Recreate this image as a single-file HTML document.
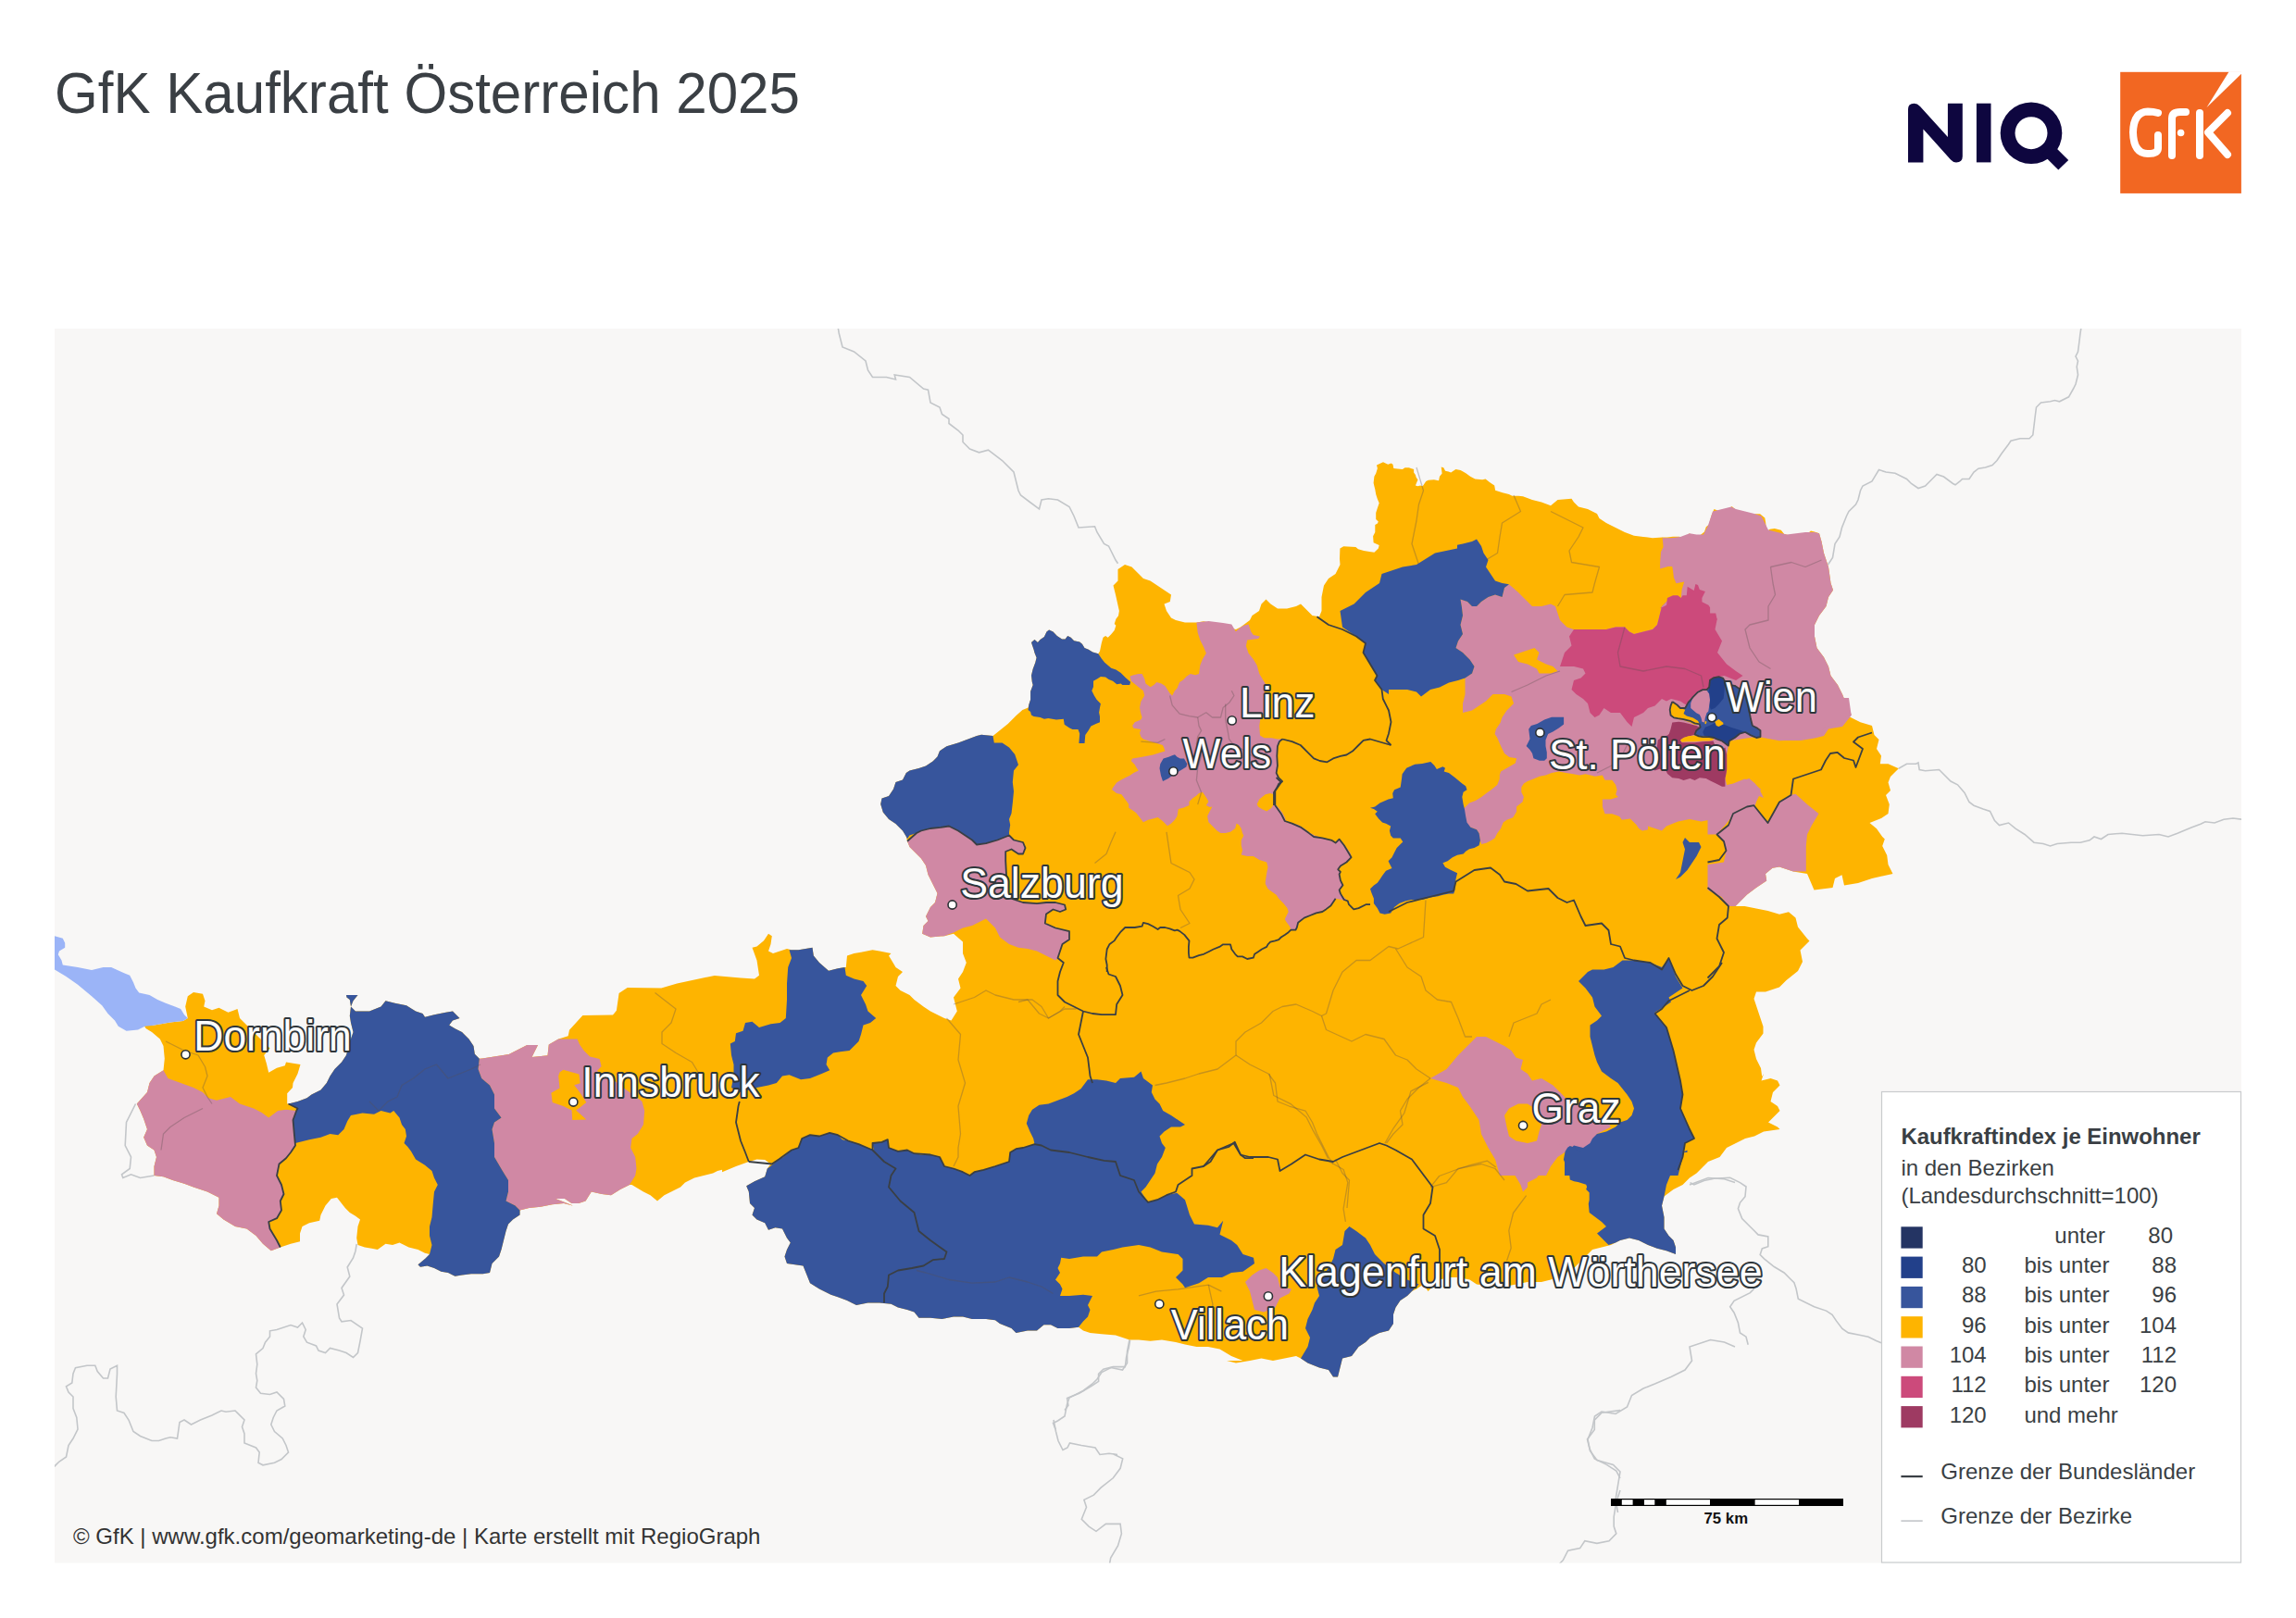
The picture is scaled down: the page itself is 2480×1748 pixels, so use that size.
<!DOCTYPE html>
<html><head><meta charset="utf-8"><title>GfK Kaufkraft Österreich 2025</title>
<style>
html,body{margin:0;padding:0;background:#fff;}
body{width:2480px;height:1748px;position:relative;overflow:hidden;font-family:"Liberation Sans",sans-serif;}
svg{position:absolute;left:0;top:0;}
.lab{font-family:"Liberation Sans",sans-serif;font-size:46px;fill:#fff;stroke:#2f363b;stroke-width:4.2px;paint-order:stroke;stroke-linejoin:round;}
.lg{font-family:"Liberation Sans",sans-serif;font-size:24px;fill:#3a3f44;}
</style></head><body>
<svg width="2480" height="1748" viewBox="0 0 2480 1748">
<defs><clipPath id="mc"><rect x="59" y="355" width="2362" height="1333.5"/></clipPath></defs>
<text transform="translate(59,122) scale(0.942,1)" style="font-family:'Liberation Sans',sans-serif;font-size:63.8px;fill:#3a3f44">GfK Kaufkraft Österreich 2025</text>
<!-- NIQ logo -->
<g fill="#0e063f">
<path d="M2061,175.4 L2061,118 Q2061,111.7 2067.5,111.7 Q2071,111.7 2074,115 L2103.9,148 L2103.9,111.7 L2119.8,111.7 L2119.8,169 Q2119.8,175.4 2113,175.4 Q2109.5,175.4 2107,172.5 L2077.4,139.5 L2077.4,175.4 Z"/>
<rect x="2134.9" y="111.7" width="15.6" height="63.7"/>
<path fill-rule="evenodd" d="M2194,110.4 A33.3,33.3 0 1 0 2194,177 A33.3,33.3 0 1 0 2194,110.4 Z M2194,126.2 A17.5,17.5 0 1 1 2194,161.2 A17.5,17.5 0 1 1 2194,126.2 Z"/>
<polygon points="2216.3,155.2 2234.2,172.9 2223.3,183.4 2205.7,166"/>
</g>
<!-- GfK logo -->
<rect x="2290.2" y="77.8" width="130.7" height="131.1" fill="#f26722"/>
<polygon points="2407.7,77.3 2421.5,77.3 2421.5,79.3 2383.6,115.9" fill="#fff"/>
<g fill="none" stroke="#fff" stroke-width="8" stroke-linecap="round" stroke-linejoin="round">
<path d="M2331,122 Q2326,120.5 2320,120.5 Q2304.5,121 2304,143 Q2304.5,166 2320,166 Q2331,166 2331,160 L2331,146"/>
<path d="M2346,168 L2346,128 Q2346,121 2355,121 L2361,121"/>
<path d="M2376,122 L2376,168"/>
<path d="M2406,122 L2385,143 L2406,167"/>
</g>
<circle cx="2355.6" cy="143.5" r="3.8" fill="#fff"/>
<!-- map -->
<rect x="59" y="355" width="2362" height="1333.5" fill="#f8f7f6"/>
<g clip-path="url(#mc)">
<polyline points="146.5,1192.5 136.5,1212.5 135.2,1237.5 141.5,1250.0 140.2,1262.5 131.5,1268.8 132.8,1272.5 141.5,1268.8 151.5,1272.5 166.5,1270.0" fill="none" stroke="#c3c6c9" stroke-width="1.6"/>
<polyline points="385.2,1344.0 384.0,1351.5 381.5,1359.0 375.2,1369.0 377.8,1379.0 369.0,1391.5 371.5,1399.0 364.0,1409.0 366.5,1424.0 369.0,1427.8 379.0,1426.5 391.5,1435.2 389.0,1449.0 386.5,1461.5 381.5,1466.5 374.0,1461.5 366.5,1459.0 356.5,1456.5 351.5,1461.5 344.0,1459.0 341.5,1454.0 331.5,1450.2 327.8,1444.0 330.2,1436.5 326.5,1429.0 321.5,1434.0 314.0,1431.5 299.0,1436.5 291.5,1437.8 291.5,1444.0 286.5,1450.2 284.0,1456.5 276.5,1462.8 277.8,1474.0 276.5,1484.0 277.8,1491.5 276.5,1499.0 281.5,1505.2 291.5,1506.5 299.0,1504.0 306.5,1511.5 307.8,1519.0 299.0,1524.0 295.2,1531.5 292.8,1539.0 296.5,1546.5 305.2,1554.0 309.0,1561.5 311.5,1569.0 304.0,1576.5 296.5,1580.2 284.0,1582.8 279.0,1580.2 280.2,1569.0 276.5,1564.0 264.0,1559.0 264.0,1549.0 261.5,1541.5 264.0,1534.0 254.0,1524.0 244.0,1525.2 239.0,1524.0 229.0,1529.0 216.5,1534.0 206.5,1539.0 199.0,1534.0 194.0,1536.5 191.5,1554.0 184.0,1552.8 179.0,1554.0 171.5,1556.5 164.0,1556.5 151.5,1551.5 144.0,1546.5 139.0,1534.0 134.0,1526.5 126.5,1524.0 125.2,1509.0 126.5,1484.0 126.5,1475.2 119.0,1479.0 116.5,1489.0 111.5,1489.0 105.2,1481.5 102.8,1475.2 94.0,1475.2 81.5,1477.8 79.0,1484.0 77.8,1494.0 71.5,1497.8 74.0,1504.0 79.0,1509.0 79.0,1521.5 82.8,1531.5 84.0,1544.0 79.0,1554.0 74.0,1561.5 71.5,1574.0 64.0,1579.0 56.5,1586.5" fill="none" stroke="#c3c6c9" stroke-width="1.6"/>
<polyline points="1220.6,1447.8 1219.3,1455.7 1216.6,1466.1 1215.3,1476.6 1202.3,1476.6 1191.8,1479.2 1186.6,1484.4 1186.6,1492.3 1178.7,1497.5 1165.7,1505.3 1152.6,1510.6 1153.9,1518.4 1150.0,1523.6" fill="none" stroke="#c3c6c9" stroke-width="1.6"/>
<polyline points="1138.0,1534.0 1140.5,1546.5 1143.0,1556.5 1148.0,1566.5 1153.0,1564.0 1155.5,1559.0 1168.0,1561.5 1183.0,1564.0 1188.0,1571.5 1198.0,1570.2 1207.0,1571.5 1202.3,1570.7 1212.7,1575.9 1210.1,1586.3 1202.3,1596.8 1189.2,1607.2 1181.4,1615.1 1170.9,1620.3 1173.5,1628.2 1168.3,1641.2 1176.1,1649.1 1184.0,1654.3 1194.4,1646.4 1210.1,1646.4 1211.4,1656.9 1207.5,1670.0 1199.7,1683.0 1198.3,1690.9" fill="none" stroke="#c3c6c9" stroke-width="1.6"/>
<polyline points="1750.0,1523.6 1730.1,1526.2 1722.3,1534.1 1722.3,1544.5 1714.5,1555.0 1717.1,1565.4 1722.3,1575.9 1735.4,1582.4 1745.8,1589.0 1750.0,1596.8" fill="none" stroke="#c3c6c9" stroke-width="1.6"/>
<polyline points="1750.0,1609.9 1745.8,1622.9 1743.2,1638.6 1743.2,1649.1 1745.8,1656.9 1738.0,1664.7 1724.9,1667.4 1711.8,1664.7 1706.6,1672.6 1693.6,1675.2 1688.3,1685.6 1683.1,1690.9" fill="none" stroke="#c3c6c9" stroke-width="1.6"/>
<polyline points="1825.5,1277.6 1829.8,1279.8 1840.6,1275.5 1851.4,1273.3 1868.7,1272.2 1879.5,1277.6 1886.0,1282.0 1885.0,1292.8 1879.5,1299.3 1877.4,1305.7 1881.7,1316.6 1890.4,1325.2 1894.7,1329.5 1899.0,1333.9 1909.8,1336.0 1909.8,1346.8 1903.3,1349.0 1901.2,1355.5 1905.5,1359.8 1916.3,1368.5 1927.1,1375.0 1933.6,1381.5 1937.9,1385.8 1940.1,1392.3 1942.3,1403.1 1959.6,1411.7 1972.6,1416.1 1979.0,1420.4 1983.4,1426.9 1989.9,1435.5 1996.4,1439.9 2007.2,1442.0 2018.0,1444.2 2026.6,1448.5 2032.0,1450.7" fill="none" stroke="#c3c6c9" stroke-width="1.6"/>
<polyline points="1894.7,1392.3 1890.4,1396.6 1873.1,1405.3 1868.7,1411.7 1873.1,1418.2 1877.4,1429.0 1879.5,1439.9 1886.0,1444.2 1888.2,1452.8" fill="none" stroke="#c3c6c9" stroke-width="1.6"/>
<polyline points="1220.0,1447.5 1217.5,1460.0 1217.5,1472.5 1212.5,1480.0 1200.0,1477.5 1190.0,1482.5 1185.0,1490.0 1180.0,1495.0 1170.0,1502.5 1155.0,1510.0 1152.5,1517.5 1150.0,1530.0 1142.5,1535.0 1137.5,1537.5 1140.0,1544.0" fill="none" stroke="#c3c6c9" stroke-width="1.6"/>
<polyline points="1825.0,1280.0 1845.0,1272.5 1862.5,1273.8 1874.0,1277.5" fill="none" stroke="#c3c6c9" stroke-width="1.6"/>
<polyline points="1874.0,1455.0 1862.5,1450.0 1847.5,1447.5 1825.0,1455.0 1827.5,1470.0 1820.0,1480.0 1805.0,1487.5 1787.5,1495.0 1775.0,1500.0 1762.5,1507.5 1757.5,1520.0 1745.0,1527.5 1730.0,1525.0 1722.5,1530.0 1720.0,1542.5 1715.0,1555.0 1717.5,1567.5 1725.0,1577.5 1742.5,1582.5 1750.0,1590.0 1747.5,1605.0 1745.0,1620.0 1747.5,1634.0" fill="none" stroke="#c3c6c9" stroke-width="1.6"/>
<polyline points="2050.8,830.2 2059.5,825.2 2069.5,825.2 2072.0,824.0 2073.2,831.5 2079.5,832.8 2094.5,831.5 2107.0,844.0 2114.5,847.8 2122.0,856.5 2127.0,866.5 2132.0,870.2 2142.0,874.0 2149.5,876.5 2154.5,886.5 2159.5,891.5 2169.5,889.0 2177.0,895.2 2187.0,901.5 2197.0,910.2 2207.0,911.5 2214.5,914.0 2222.0,911.5 2237.0,910.2 2247.0,910.2 2257.0,907.8 2262.0,904.0 2269.5,906.5 2277.0,901.5 2292.0,900.2 2314.5,902.8 2332.0,901.5 2342.0,904.0 2352.0,900.2 2367.0,894.0 2377.0,890.2 2382.0,887.8 2392.0,889.0 2402.0,885.2 2412.0,884.0 2422.0,885.2" fill="none" stroke="#c3c6c9" stroke-width="1.6"/>
<polyline points="1974.5,610.0 1979.5,602.5 1982.0,587.5 1987.0,580.0 1989.5,570.0 1994.5,557.5 1997.0,552.5 2004.5,545.0 2007.0,540.0 2009.5,530.0 2012.0,525.0 2022.0,520.0 2029.5,507.5 2037.0,510.0 2047.0,511.2 2059.5,517.5 2064.5,522.5 2072.0,527.5 2079.5,525.0 2087.0,517.5 2092.0,512.5 2099.5,515.0 2109.5,522.5 2112.0,523.8 2117.0,520.0 2119.5,517.5 2127.0,517.5 2132.0,510.0 2137.0,506.2 2144.5,505.0 2152.0,502.5 2157.0,497.5 2162.0,490.0 2169.5,480.0 2172.0,476.2 2182.0,473.8 2192.0,473.8 2195.8,470.0 2197.0,460.0 2198.2,450.0 2199.5,440.0 2204.5,435.0 2214.5,433.8 2219.5,432.5 2224.5,433.8 2234.5,428.8 2239.5,420.0 2242.0,415.0 2244.5,405.0 2243.2,396.2 2244.5,390.0 2242.0,385.0 2244.5,380.0 2245.8,370.0 2247.0,360.0 2248.2,352.5" fill="none" stroke="#c3c6c9" stroke-width="1.6"/>
<polyline points="905.0,352.5 906.2,360.0 910.0,375.0 922.5,380.0 935.0,390.0 937.5,400.0 942.5,407.5 957.5,407.5 967.5,410.0 966.2,405.0 982.5,407.5 997.5,420.0 1002.5,421.2 1005.0,435.0 1015.0,440.0 1017.5,447.5 1025.0,452.5 1025.0,457.5 1035.0,465.0 1040.0,470.0 1040.0,477.5 1047.5,485.0 1057.5,488.8 1067.5,486.2 1082.5,497.5 1095.0,510.0 1097.5,520.0 1100.0,530.0 1102.5,535.0 1112.5,542.5 1122.5,550.0 1125.0,540.0 1132.5,538.8 1142.5,540.0 1155.0,547.5 1160.0,557.5 1165.0,570.0 1182.5,568.8 1185.0,575.0 1192.5,587.5 1197.5,590.0 1205.0,605.0 1207.5,608.8" fill="none" stroke="#c3c6c9" stroke-width="1.6"/>
<polygon points="147.8,1192.5 159.0,1180.0 161.5,1170.0 166.5,1162.5 176.5,1156.2 177.8,1143.8 176.5,1130.0 172.8,1122.5 164.0,1115.0 157.8,1111.2 155.2,1107.5 164.0,1108.0 174.0,1106.2 184.0,1104.5 197.8,1103.0 202.8,1100.0 200.2,1087.5 202.8,1076.2 209.0,1072.0 219.0,1073.8 221.5,1081.2 220.2,1087.5 229.0,1091.2 236.5,1088.8 246.5,1093.8 256.5,1090.0 259.0,1100.0 264.0,1105.0 274.0,1115.0 284.0,1125.0 291.5,1132.5 285.2,1140.0 287.8,1148.8 290.2,1158.8 299.0,1153.8 307.8,1151.2 309.0,1147.5 316.5,1148.8 324.5,1150.0 321.5,1160.0 316.5,1170.0 316.0,1175.0 310.2,1181.2 310.2,1192.5 311.5,1192.5 321.5,1190.0 331.5,1186.2 336.5,1182.5 346.5,1177.5 352.8,1170.0 356.5,1162.5 361.5,1155.0 369.0,1147.5 374.0,1140.0 376.5,1130.0 381.5,1115.0 379.0,1105.0 377.8,1097.5 379.0,1087.5 377.8,1080.0 374.5,1077.5 374.0,1075.0 386.5,1075.0 381.5,1081.2 379.0,1087.5 384.0,1092.5 399.0,1092.5 411.5,1087.5 416.5,1081.2 426.5,1083.8 439.0,1086.2 449.0,1092.5 456.5,1095.0 459.0,1098.8 469.0,1096.2 481.5,1093.8 489.0,1092.5 496.5,1100.0 489.0,1102.5 485.2,1107.5 491.5,1111.2 499.0,1115.0 506.5,1122.5 511.5,1130.0 512.8,1138.8 517.8,1143.8 520.9,1143.4 549.7,1138.9 569.3,1129.1 581.0,1129.1 574.5,1142.1 591.5,1140.2 592.8,1128.4 603.2,1122.5 613.7,1119.3 615.0,1112.7 629.4,1097.0 662.0,1096.4 665.9,1091.8 668.6,1072.9 677.7,1067.0 714.3,1067.6 731.3,1062.4 771.8,1053.9 800.0,1056.5 815.0,1057.5 820.0,1053.8 817.5,1037.5 812.5,1023.8 817.5,1022.5 825.0,1016.2 830.0,1008.8 833.8,1011.2 832.5,1020.0 830.0,1027.5 835.0,1030.0 850.0,1025.0 855.0,1026.2 862.5,1026.2 870.0,1025.0 877.5,1023.8 878.8,1032.5 885.0,1040.0 895.0,1048.8 905.0,1046.2 912.5,1045.0 913.8,1045.0 915.0,1032.5 922.5,1030.0 930.0,1028.8 942.5,1026.2 950.0,1027.5 962.5,1030.0 960.0,1032.5 963.8,1038.8 967.5,1045.0 975.0,1050.0 970.0,1055.0 967.5,1065.0 972.5,1070.0 982.5,1075.0 987.5,1080.0 997.5,1087.5 1005.0,1092.5 1015.0,1097.5 1020.0,1100.0 1027.5,1102.5 1033.8,1092.5 1030.0,1077.5 1037.5,1067.5 1035.0,1057.5 1040.0,1050.0 1043.8,1040.0 1040.0,1030.0 1040.0,1017.5 1030.0,1008.8 1020.0,1011.2 1005.0,1012.5 996.2,1008.8 997.5,1000.0 1002.5,995.0 1000.0,990.0 1005.0,980.0 1010.0,975.0 1012.5,965.0 1007.5,955.0 1002.5,945.0 1000.0,935.0 995.0,927.5 987.5,920.0 982.5,915.0 980.0,908.8 978.8,903.8 975.0,897.5 967.5,890.0 960.0,885.0 953.8,877.5 951.2,868.8 952.5,862.5 960.0,860.0 965.0,852.5 967.5,845.0 975.0,842.5 978.8,835.0 982.5,832.5 992.5,830.0 1000.0,827.5 1007.5,822.5 1012.5,817.5 1015.0,811.2 1022.5,806.2 1035.0,802.5 1045.0,798.8 1055.0,795.0 1060.0,793.8 1072.5,795.0 1080.0,788.9 1088.7,782.0 1097.4,773.2 1104.4,767.1 1110.5,764.5 1111.4,761.0 1113.1,755.8 1113.1,747.1 1115.7,740.1 1114.8,736.7 1114.0,729.7 1115.7,722.7 1118.3,715.7 1119.6,710.5 1117.5,705.3 1116.6,701.8 1114.8,696.6 1114.0,694.0 1117.5,690.9 1120.9,694.0 1123.6,690.9 1127.9,687.9 1130.5,682.6 1133.1,680.5 1137.5,682.6 1141.8,687.0 1147.1,690.5 1150.6,690.5 1153.2,687.0 1156.7,688.7 1160.1,692.2 1166.2,693.5 1168.9,695.7 1171.5,700.1 1175.8,701.8 1180.2,704.4 1186.3,706.2 1188.0,703.6 1189.8,694.8 1191.5,688.7 1194.1,687.0 1196.7,688.7 1200.2,685.3 1203.7,680.9 1205.4,675.7 1203.7,673.9 1205.4,668.7 1208.0,665.2 1208.9,660.0 1205.0,642.5 1202.5,632.5 1207.5,627.5 1207.5,615.0 1215.0,610.0 1222.5,612.5 1230.0,620.0 1235.0,625.0 1242.5,627.5 1250.0,632.5 1257.5,637.5 1265.0,642.5 1263.8,650.0 1257.5,652.5 1260.0,660.0 1265.0,667.5 1270.0,670.0 1280.0,672.5 1292.5,672.5 1300.0,671.2 1312.5,673.8 1325.0,677.5 1335.0,680.0 1340.0,677.5 1345.0,673.8 1350.0,670.0 1352.5,665.0 1360.0,660.0 1362.5,652.5 1367.5,647.5 1372.5,652.5 1380.0,657.5 1390.0,657.5 1400.0,655.0 1405.0,652.5 1412.5,660.0 1417.5,665.0 1425.0,666.2 1427.5,660.0 1427.5,645.0 1430.0,632.5 1435.0,625.0 1442.5,620.0 1447.5,610.0 1447.0,603.7 1447.4,592.4 1451.3,590.2 1455.7,590.6 1464.4,591.1 1467.0,593.2 1473.1,595.0 1479.2,595.9 1484.4,596.7 1488.8,592.4 1489.7,588.9 1483.6,586.3 1483.1,579.3 1485.3,574.9 1485.3,567.1 1487.9,565.4 1488.8,563.6 1486.2,561.0 1486.2,554.0 1487.9,548.8 1489.7,543.6 1487.9,539.2 1486.2,534.0 1485.3,528.8 1484.4,525.3 1483.6,521.8 1484.4,514.8 1486.2,511.4 1487.9,506.1 1487.0,502.6 1492.3,500.0 1494.0,499.2 1499.2,501.8 1502.7,500.5 1504.5,501.8 1505.3,506.1 1509.7,506.6 1514.9,507.0 1517.5,505.3 1521.9,505.3 1527.1,507.0 1527.1,510.5 1528.9,513.1 1529.7,515.7 1531.5,518.3 1528.9,524.4 1531.5,525.3 1534.1,524.4 1536.7,525.3 1540.2,520.1 1542.8,518.8 1548.9,518.3 1554.1,519.2 1555.0,514.8 1557.6,511.4 1556.7,504.4 1559.3,505.3 1561.1,508.7 1564.6,509.6 1567.2,510.5 1572.4,507.0 1577.6,507.9 1583.7,511.4 1588.1,514.8 1593.3,517.5 1601.1,518.3 1604.6,517.5 1609.0,520.9 1614.2,524.4 1615.1,529.7 1622.9,532.3 1629.9,534.0 1633.4,535.7 1640.0,535.7 1645.0,536.2 1655.0,540.0 1665.0,542.5 1675.0,546.2 1682.5,540.0 1697.5,538.8 1700.0,542.5 1705.0,547.5 1715.0,550.0 1725.0,555.0 1727.5,560.0 1735.0,565.0 1745.0,570.0 1755.0,575.0 1765.0,578.8 1775.0,580.0 1785.0,581.2 1795.7,580.5 1800.9,580.5 1807.0,579.7 1814.0,579.7 1819.2,581.8 1822.7,581.4 1824.5,576.2 1827.9,578.3 1829.7,581.8 1834.0,581.4 1836.7,577.9 1841.0,574.4 1842.8,569.2 1846.2,566.6 1847.1,562.2 1848.9,556.1 1851.5,550.0 1855.8,551.8 1864.5,551.3 1867.1,550.9 1870.6,547.0 1874.1,550.0 1878.5,553.5 1883.7,555.3 1885.4,557.0 1892.4,557.0 1895.9,555.3 1901.1,555.3 1906.3,559.6 1907.2,564.8 1908.1,574.4 1911.6,571.8 1916.8,570.9 1923.8,572.7 1927.2,577.0 1932.5,578.3 1939.4,578.3 1946.4,576.2 1951.6,577.0 1956.0,573.6 1960.0,574.4 1965.0,576.2 1967.5,585.0 1970.0,597.5 1972.5,605.0 1975.0,612.5 1977.5,630.0 1980.0,637.5 1975.0,645.0 1972.5,655.0 1965.0,665.0 1960.0,675.0 1960.0,687.5 1962.5,700.0 1970.0,710.0 1975.0,720.0 1977.5,730.0 1985.0,740.0 1990.0,750.0 1995.0,762.5 1999.5,771.5 1997.0,774.0 2009.5,780.2 2022.0,784.0 2024.5,794.0 2029.5,799.0 2027.0,809.0 2032.0,816.5 2030.8,825.2 2039.5,825.2 2050.8,830.2 2042.0,839.0 2039.5,845.2 2042.0,854.0 2037.0,859.0 2040.8,869.0 2039.5,879.0 2032.0,884.0 2019.5,889.0 2027.0,895.2 2033.2,904.0 2035.8,906.5 2033.2,914.0 2038.2,924.0 2039.5,934.0 2044.5,944.0 2022.0,949.0 2007.0,954.0 1992.0,956.5 1989.5,945.2 1982.0,949.0 1979.5,959.0 1959.5,961.5 1952.0,944.0 1937.0,941.5 1929.5,939.0 1922.0,936.5 1914.5,937.8 1907.0,944.0 1908.2,951.5 1897.0,959.0 1887.0,966.5 1879.5,974.0 1874.5,979.0 1884.5,979.0 1897.0,981.5 1909.5,984.0 1922.0,987.8 1932.0,985.2 1939.5,991.5 1942.0,1001.5 1952.0,1014.0 1954.5,1016.5 1944.5,1026.5 1947.0,1039.0 1942.0,1049.0 1929.5,1059.0 1922.0,1066.5 1907.0,1071.5 1897.0,1071.5 1894.5,1079.0 1899.5,1094.0 1904.5,1109.0 1904.5,1116.5 1897.0,1126.5 1894.5,1134.0 1897.0,1144.0 1902.0,1154.0 1903.2,1163.0 1905.0,1160.0 1902.5,1167.5 1912.5,1165.0 1920.0,1167.5 1922.5,1172.5 1915.0,1180.0 1912.5,1190.0 1920.0,1195.0 1922.5,1200.0 1915.0,1207.5 1910.0,1212.5 1920.0,1217.5 1922.5,1220.0 1905.0,1222.5 1895.0,1227.5 1885.0,1230.0 1875.0,1235.0 1865.0,1240.0 1857.5,1250.0 1845.0,1255.0 1840.0,1260.0 1837.5,1264.0 1840.0,1260.0 1832.5,1267.5 1825.0,1272.5 1817.5,1280.0 1807.5,1285.0 1797.5,1292.5 1795.0,1302.5 1797.5,1315.0 1797.5,1327.5 1802.5,1335.0 1807.5,1340.0 1810.0,1347.5 1810.0,1355.0 1800.0,1351.2 1790.0,1348.8 1780.0,1345.0 1770.0,1340.0 1760.0,1337.5 1750.0,1340.0 1740.0,1345.0 1730.0,1347.5 1720.0,1350.0 1710.0,1360.0 1700.0,1370.0 1687.5,1377.5 1675.0,1382.5 1665.0,1385.0 1650.0,1385.0 1637.5,1387.5 1625.0,1390.0 1612.5,1390.0 1595.0,1387.5 1587.5,1382.5 1575.0,1380.0 1565.0,1380.0 1555.0,1382.5 1547.5,1390.0 1542.5,1395.0 1537.5,1387.5 1530.0,1392.5 1525.0,1395.0 1520.0,1400.0 1512.5,1405.0 1507.5,1412.5 1505.0,1420.0 1505.0,1430.0 1500.0,1437.5 1490.0,1440.0 1480.0,1445.0 1475.0,1450.0 1467.5,1455.0 1460.0,1465.0 1450.0,1467.5 1447.5,1477.5 1445.0,1487.5 1440.0,1487.5 1435.0,1480.0 1425.0,1477.5 1412.5,1472.5 1405.0,1467.5 1400.0,1465.0 1387.5,1467.5 1375.0,1470.0 1362.5,1467.5 1350.0,1470.0 1335.0,1472.5 1325.0,1470.0 1354.0,1470.0 1342.5,1470.0 1330.0,1465.0 1317.5,1457.5 1305.0,1455.0 1292.5,1455.0 1280.0,1452.5 1270.0,1450.0 1255.0,1447.5 1242.5,1448.8 1230.0,1447.5 1220.0,1447.5 1205.0,1442.5 1190.0,1441.2 1177.5,1440.0 1170.0,1437.5 1165.0,1433.8 1165.0,1433.8 1155.0,1435.0 1142.5,1435.0 1135.0,1431.2 1127.5,1431.2 1120.0,1437.5 1110.0,1437.5 1097.5,1440.0 1092.5,1435.0 1080.0,1430.0 1075.0,1426.2 1065.0,1425.0 1057.5,1425.0 1050.0,1425.0 1040.0,1422.5 1030.0,1422.5 1017.5,1425.0 1005.0,1423.8 992.5,1423.8 987.5,1417.5 980.0,1415.0 970.0,1412.5 962.5,1408.8 950.0,1407.5 937.5,1407.5 925.0,1410.0 915.0,1405.0 905.0,1401.2 897.5,1398.8 885.0,1392.5 875.0,1386.2 872.5,1380.0 867.5,1367.5 850.0,1365.0 847.5,1357.5 850.0,1350.0 853.8,1342.5 850.0,1337.5 845.0,1327.5 837.5,1326.2 830.0,1328.8 826.2,1321.2 817.5,1317.5 812.5,1312.5 815.0,1305.0 810.0,1300.0 808.8,1287.5 806.2,1281.2 815.0,1276.2 826.2,1271.2 828.8,1262.5 832.5,1257.5 832.5,1257.5 826.2,1253.0 817.5,1252.5 807.5,1255.5 795.0,1260.0 780.0,1266.2 780.0,1263.8 775.0,1265.0 770.0,1267.5 760.0,1270.0 750.0,1272.5 740.0,1277.5 735.0,1282.5 725.0,1287.5 717.5,1291.2 710.0,1297.5 702.5,1291.2 695.0,1287.5 682.5,1280.0 680.0,1280.0 670.0,1285.0 660.0,1291.2 650.0,1290.0 638.8,1287.5 632.5,1297.5 625.0,1300.0 617.5,1300.0 610.0,1295.0 600.0,1295.0 619.0,1302.5 609.0,1300.0 596.5,1301.2 584.0,1303.8 571.5,1305.0 561.5,1307.5 561.5,1312.5 554.0,1317.5 549.0,1322.5 546.5,1330.0 544.0,1340.0 541.5,1350.0 539.0,1357.5 531.5,1365.0 529.0,1375.0 521.5,1376.2 509.0,1376.2 499.0,1377.5 491.5,1378.8 484.0,1375.0 476.5,1373.8 469.0,1370.0 461.5,1367.5 454.0,1368.8 451.5,1366.2 459.0,1360.0 464.0,1355.0 459.0,1353.8 451.5,1350.0 441.5,1347.5 431.5,1342.5 424.0,1345.0 416.5,1343.8 407.8,1350.0 401.5,1348.8 394.0,1347.5 386.5,1345.0 385.2,1337.5 386.5,1325.0 389.0,1317.5 384.0,1313.8 377.8,1310.0 372.8,1305.0 364.0,1293.8 357.8,1295.0 351.5,1302.5 346.5,1312.5 345.2,1318.8 334.0,1321.2 326.5,1325.0 324.0,1332.5 324.0,1341.2 314.0,1343.8 302.8,1347.5 292.8,1351.2 284.0,1343.8 276.5,1335.0 266.5,1327.5 254.0,1325.0 241.5,1317.5 234.0,1311.2 236.5,1302.5 236.5,1293.8 224.0,1287.5 209.0,1282.5 199.0,1278.8 186.5,1275.0 176.5,1271.2 166.5,1270.0 166.5,1260.0 169.0,1250.0 166.5,1242.5 159.0,1237.5 155.2,1228.8 159.0,1220.0 155.2,1208.8 151.5,1200.0" fill="#feb400"/>
<polygon points="59.0,1011.2 67.8,1013.8 70.2,1018.8 70.2,1023.8 64.0,1027.5 62.8,1031.2 66.5,1037.5 67.8,1042.5 84.0,1045.0 99.0,1048.0 111.5,1045.0 120.2,1045.0 134.0,1051.2 140.2,1053.8 144.0,1061.2 146.5,1067.5 150.2,1072.5 161.5,1075.0 170.2,1080.0 179.0,1083.8 189.0,1087.5 195.2,1090.0 199.0,1096.2 202.8,1100.0 197.8,1103.0 184.0,1104.5 174.0,1106.2 164.0,1108.0 156.5,1108.8 149.0,1112.5 136.5,1113.8 127.8,1108.8 124.0,1102.5 116.5,1095.0 110.2,1086.2 99.0,1076.2 84.0,1063.8 71.5,1055.0 59.0,1047.5" fill="#9bb4f7"/>
<polygon points="176.5,1156.2 166.5,1162.5 161.5,1170.0 159.0,1180.0 147.8,1192.5 151.5,1200.0 155.2,1208.8 159.0,1220.0 155.2,1228.8 159.0,1237.5 166.5,1242.5 169.0,1250.0 166.5,1260.0 166.5,1270.0 176.5,1271.2 186.5,1275.0 199.0,1278.8 209.0,1282.5 224.0,1287.5 236.5,1293.8 236.5,1302.5 234.0,1311.2 241.5,1317.5 254.0,1325.0 266.5,1327.5 276.5,1335.0 284.0,1343.8 292.8,1351.2 302.8,1347.5 299.0,1340.0 291.5,1327.5 290.2,1320.0 299.0,1316.2 304.0,1307.5 302.8,1297.5 306.5,1290.0 304.0,1280.0 299.0,1270.0 301.5,1257.5 309.0,1251.2 314.0,1245.0 319.0,1237.5 317.8,1225.0 316.5,1210.0 320.2,1200.0 309.0,1198.8 300.2,1200.0 290.2,1207.5 282.8,1202.0 274.0,1197.5 259.0,1192.5 249.0,1185.0 234.0,1188.8 225.2,1186.2 219.0,1180.0 209.0,1175.0 195.2,1170.0 181.5,1165.0" fill="#d088a4"/>
<polygon points="520.9,1143.4 549.7,1138.9 569.3,1129.1 581.0,1129.1 574.5,1142.1 591.5,1140.2 592.8,1128.4 603.2,1122.5 623.5,1122.5 626.1,1128.4 630.7,1134.9 637.2,1141.5 647.6,1144.1 649.6,1151.9 645.0,1157.1 660.0,1165.0 680.0,1180.0 693.4,1189.8 696.2,1200.0 695.0,1215.0 688.8,1225.0 682.5,1230.0 681.2,1240.0 686.2,1250.0 687.5,1262.5 686.2,1270.0 680.0,1280.0 670.0,1285.0 660.0,1291.2 650.0,1290.0 638.8,1287.5 632.5,1297.5 625.0,1300.0 617.5,1300.0 610.0,1295.0 600.0,1295.0 619.0,1302.5 609.0,1300.0 596.5,1301.2 584.0,1303.8 571.5,1305.0 561.5,1307.5 556.5,1302.5 546.5,1297.5 549.0,1287.5 549.0,1275.0 542.8,1265.0 534.0,1250.0 534.0,1235.0 531.5,1220.0 534.0,1212.5 541.5,1207.5 534.0,1197.5 534.0,1182.5 529.0,1172.5 520.2,1165.0 516.5,1155.0 517.8,1143.8" fill="#d088a4"/>
<polygon points="980.0,908.8 990.0,900.0 995.0,897.5 1005.0,895.0 1016.2,893.8 1025.0,892.5 1035.0,897.5 1042.5,902.5 1050.0,907.5 1055.0,912.5 1065.0,911.2 1077.5,907.5 1090.0,902.5 1095.0,907.5 1105.0,910.0 1107.5,916.2 1105.0,922.5 1100.0,922.5 1092.5,917.5 1086.2,920.0 1086.2,930.0 1087.5,955.0 1090.0,970.0 1105.0,975.0 1120.0,976.2 1130.0,975.0 1140.0,975.0 1150.0,977.5 1151.2,982.5 1145.0,985.0 1137.5,982.5 1130.0,987.5 1128.8,997.5 1140.0,1002.5 1155.0,1006.2 1155.0,1015.0 1147.5,1020.0 1145.0,1027.5 1142.5,1035.0 1140.0,1037.5 1130.0,1032.5 1120.0,1027.5 1110.0,1025.0 1100.0,1023.8 1090.0,1020.0 1080.0,1012.5 1075.0,1002.5 1067.5,995.0 1065.0,992.5 1055.0,997.5 1050.0,1000.0 1040.0,1002.5 1030.0,1007.5 1020.0,1011.2 1005.0,1012.5 996.2,1008.8 997.5,1000.0 1002.5,995.0 1000.0,990.0 1005.0,980.0 1010.0,975.0 1012.5,965.0 1007.5,955.0 1002.5,945.0 1000.0,935.0 995.0,927.5 987.5,920.0 982.5,915.0" fill="#d088a4"/>
<polygon points="1292.4,672.4 1305.4,671.1 1321.1,673.1 1330.3,674.4 1334.8,682.2 1339.4,678.3 1343.3,675.7 1348.6,674.4 1351.2,682.2 1353.8,686.1 1361.0,687.4 1359.0,690.1 1347.2,691.4 1345.9,697.9 1348.6,705.7 1353.8,712.3 1357.7,718.8 1360.3,727.9 1364.2,734.5 1368.2,741.0 1365.5,744.9 1366.8,758.0 1365.5,771.1 1361.6,775.0 1360.3,784.1 1361.0,794.6 1365.5,797.2 1373.4,797.2 1379.9,798.5 1385.1,798.5 1381.9,801.1 1379.9,806.3 1379.3,816.8 1379.9,827.2 1378.6,835.1 1381.2,840.3 1385.1,844.2 1381.2,846.8 1378.6,852.1 1376.0,856.0 1378.6,851.8 1377.3,854.4 1377.3,859.6 1376.0,863.5 1377.3,868.7 1381.2,872.7 1385.1,877.9 1387.8,883.1 1389.1,888.3 1395.6,889.7 1402.1,891.0 1408.7,894.9 1415.2,900.1 1420.4,902.7 1428.3,905.3 1436.1,907.9 1442.6,910.6 1446.6,906.6 1450.5,910.6 1454.4,915.8 1458.3,921.0 1459.6,926.2 1454.4,931.5 1450.5,934.1 1445.2,939.3 1447.9,941.9 1446.6,944.5 1447.9,951.1 1450.5,956.3 1446.6,961.5 1447.9,965.4 1454.4,972.0 1451.8,973.3 1449.2,972.0 1442.6,970.7 1438.7,975.9 1433.5,981.1 1428.3,983.7 1421.7,986.3 1415.2,989.0 1408.7,991.6 1403.4,995.5 1402.1,999.4 1399.5,1004.6 1394.3,1004.6 1393.0,1000.7 1389.1,995.5 1387.8,992.9 1389.1,990.3 1391.7,985.0 1390.4,981.1 1386.4,975.9 1381.2,970.7 1378.6,966.7 1374.7,964.1 1369.5,960.2 1366.8,955.0 1366.8,952.4 1368.2,943.2 1369.5,936.7 1368.2,931.5 1360.3,928.9 1353.8,924.9 1347.2,924.9 1340.7,923.6 1342.0,918.4 1340.7,913.2 1340.7,907.9 1343.3,902.7 1342.0,900.1 1340.7,894.9 1338.1,891.0 1335.5,889.7 1334.2,894.9 1329.0,898.8 1323.7,900.1 1318.5,900.1 1314.6,897.5 1309.4,892.3 1305.4,888.3 1304.1,881.8 1306.7,876.6 1309.4,871.4 1306.7,872.0 1302.8,870.1 1305.4,866.1 1304.1,863.5 1301.5,859.6 1298.9,855.7 1295.0,857.0 1292.4,859.6 1288.4,862.2 1284.5,866.1 1284.5,870.1 1278.0,872.7 1272.8,874.0 1271.5,881.8 1268.9,885.7 1264.9,889.7 1261.0,892.3 1255.8,887.0 1250.6,883.1 1245.3,884.4 1240.1,885.7 1234.9,888.3 1231.0,883.1 1227.0,877.9 1223.1,875.3 1219.2,872.7 1219.2,868.7 1215.3,863.5 1211.4,858.3 1206.1,857.0 1200.9,853.1 1202.2,850.8 1206.1,845.5 1210.1,842.9 1215.3,840.3 1220.5,837.7 1224.4,835.1 1229.7,832.5 1227.0,828.6 1225.7,825.9 1221.8,822.0 1223.1,819.4 1232.3,818.1 1238.8,816.8 1245.3,815.5 1253.2,812.9 1258.4,811.6 1257.1,807.6 1255.8,805.0 1247.9,802.4 1242.7,801.1 1234.9,798.5 1232.3,795.9 1231.0,792.0 1232.3,788.0 1224.4,786.7 1223.1,784.1 1225.7,780.2 1232.3,777.6 1233.6,775.0 1232.3,771.1 1231.0,764.5 1232.3,758.0 1236.2,751.5 1234.9,746.2 1229.7,742.3 1221.8,735.8 1220.5,730.6 1224.4,729.3 1229.7,727.9 1233.6,727.9 1236.2,733.2 1237.5,738.4 1242.7,742.3 1246.6,739.7 1249.3,737.1 1254.5,738.4 1258.4,741.0 1263.6,748.9 1266.2,751.5 1268.9,746.2 1271.5,743.6 1274.1,737.1 1278.0,734.5 1281.9,730.6 1285.8,727.9 1291.1,729.3 1295.0,727.9 1296.3,718.8 1298.9,712.3 1302.8,705.7 1300.2,699.2 1296.3,691.4 1293.7,683.5" fill="#d088a4"/>
<polygon points="1795.0,581.2 1805.0,581.2 1815.0,580.0 1825.0,576.2 1832.5,577.5 1840.0,577.5 1845.0,567.5 1850.0,552.5 1860.0,550.0 1870.0,547.5 1875.0,550.0 1885.0,552.5 1895.0,555.0 1902.5,557.5 1907.5,567.5 1910.0,572.5 1920.0,575.0 1930.0,577.5 1940.0,576.2 1950.0,575.0 1960.0,575.0 1965.0,576.2 1967.5,585.0 1970.0,597.5 1972.5,605.0 1975.0,612.5 1977.5,630.0 1980.0,637.5 1975.0,645.0 1972.5,655.0 1965.0,665.0 1960.0,675.0 1960.0,687.5 1962.5,700.0 1970.0,710.0 1975.0,720.0 1977.5,730.0 1985.0,740.0 1990.0,750.0 1995.0,762.5 2000.0,772.5 1990.0,785.0 1975.0,787.5 1970.0,795.0 1960.0,797.5 1945.0,800.0 1925.0,800.0 1910.0,797.5 1902.5,795.0 1867.8,800.5 1866.9,805.7 1865.2,815.2 1865.2,831.6 1864.3,836.8 1863.4,841.1 1865.2,848.1 1873.8,847.2 1878.2,844.6 1882.5,842.9 1889.4,841.1 1895.5,846.3 1899.8,851.5 1905.0,861.9 1900.0,860.0 1895.0,870.0 1880.0,872.5 1870.0,880.0 1862.5,892.5 1857.5,887.5 1850.0,885.0 1837.5,887.5 1825.0,885.0 1812.5,887.5 1800.0,892.5 1795.0,897.5 1780.0,892.5 1780.0,896.3 1774.0,897.6 1770.1,895.0 1767.5,891.1 1760.9,884.5 1751.8,885.8 1749.2,881.9 1741.3,879.3 1733.5,879.3 1730.9,871.5 1730.9,863.6 1740.0,863.6 1747.9,861.0 1745.2,858.4 1746.6,853.2 1745.2,847.9 1741.3,842.7 1733.5,842.7 1730.9,837.5 1723.0,838.8 1717.8,837.5 1712.6,836.2 1706.0,837.5 1699.5,836.2 1691.7,834.9 1683.8,833.6 1676.0,834.9 1669.5,837.5 1662.9,838.8 1656.4,841.4 1649.9,844.0 1645.9,846.6 1643.3,850.6 1643.3,855.8 1645.9,861.0 1644.6,866.2 1638.1,871.5 1638.1,876.7 1634.2,883.2 1627.6,885.8 1623.7,888.4 1621.1,895.0 1617.2,900.2 1614.6,905.4 1610.7,908.0 1605.4,910.7 1600.2,912.0 1598.9,908.0 1597.6,900.2 1595.0,896.3 1588.4,893.7 1584.5,889.8 1583.2,884.5 1581.9,879.3 1580.6,874.1 1583.2,871.5 1587.1,867.5 1593.7,864.9 1600.2,861.0 1605.4,857.1 1610.7,853.2 1617.2,847.9 1619.8,841.4 1619.8,837.5 1621.1,833.6 1630.3,828.3 1636.8,824.4 1638.1,819.2 1630.3,817.9 1625.0,814.0 1621.1,806.1 1617.2,797.0 1614.6,793.1 1615.9,787.8 1621.1,780.0 1620.0,782.5 1622.5,775.0 1627.5,767.5 1635.0,760.0 1632.5,752.5 1625.0,750.0 1612.5,750.0 1605.0,757.5 1590.0,767.5 1580.0,770.0 1580.0,760.0 1582.5,750.0 1582.5,732.5 1590.0,727.5 1592.5,720.0 1587.5,712.5 1580.0,705.0 1572.5,700.0 1575.0,692.5 1580.0,685.0 1577.5,675.0 1580.0,665.0 1578.8,655.0 1577.5,647.5 1585.0,650.0 1590.0,655.0 1595.0,655.0 1600.0,650.0 1607.5,645.0 1615.0,642.5 1622.5,645.0 1625.0,635.0 1630.0,631.2 1640.0,640.0 1650.0,650.0 1655.0,655.0 1665.0,655.0 1675.0,652.5 1680.0,655.0 1682.5,662.5 1685.0,670.0 1692.5,677.5 1700.0,680.0 1712.5,680.0 1725.0,680.0 1735.0,680.0 1745.0,677.5 1755.0,677.5 1760.0,682.5 1765.0,685.0 1775.0,682.5 1785.0,680.0 1790.0,675.0 1792.5,665.0 1795.0,655.0 1800.0,650.0 1805.0,645.0 1815.7,645.9 1816.6,637.1 1819.2,628.4 1810.5,630.2 1807.9,624.1 1807.0,616.2 1806.2,611.9 1801.8,611.9 1793.1,614.5 1793.1,608.4 1794.0,596.2 1796.6,591.0 1795.7,580.5" fill="#d088a4"/>
<polygon points="1889.5,754.0 1997.0,754.0 1999.5,771.5 1987.0,779.0 1969.5,786.5 1967.0,794.0 1947.0,799.0 1922.0,800.2 1902.0,796.5 1892.0,784.0" fill="#d088a4"/>
<polygon points="1844.5,841.5 1862.0,849.0 1872.0,846.5 1884.5,841.5 1893.2,845.2 1902.0,852.8 1898.2,861.5 1895.8,870.2 1884.5,871.5 1872.0,879.0 1869.5,884.0 1854.5,901.5 1844.5,901.5" fill="#d088a4"/>
<polygon points="1854.5,901.5 1867.0,891.5 1872.0,879.0 1884.5,871.5 1894.5,870.2 1909.5,889.0 1917.0,876.5 1922.0,866.5 1933.2,859.0 1939.5,857.8 1952.0,869.0 1964.5,879.0 1957.0,891.5 1952.0,901.5 1950.8,914.0 1950.8,941.5 1937.0,941.5 1929.5,939.0 1922.0,936.5 1914.5,937.8 1907.0,944.0 1908.2,951.5 1897.0,959.0 1887.0,966.5 1879.5,974.0 1874.5,979.0 1867.0,979.0 1859.5,969.0 1844.5,961.5 1844.5,934.0 1862.0,931.5 1864.5,919.0 1862.0,909.0" fill="#d088a4"/>
<polygon points="1545.0,1165.0 1562.5,1155.0 1575.0,1140.0 1585.0,1130.0 1595.0,1120.0 1605.0,1120.0 1615.0,1125.0 1625.0,1130.0 1632.5,1135.0 1637.5,1142.5 1645.0,1145.0 1642.5,1155.0 1650.0,1160.0 1655.0,1167.5 1665.0,1165.0 1677.5,1172.5 1685.0,1180.0 1690.0,1185.0 1695.0,1195.0 1700.0,1192.5 1710.0,1195.0 1720.0,1205.0 1735.0,1210.0 1740.0,1217.5 1725.0,1225.0 1720.0,1232.5 1715.0,1240.0 1710.0,1242.5 1697.5,1237.5 1690.0,1245.0 1682.5,1250.0 1675.0,1260.0 1670.0,1270.0 1620.0,1270.0 1615.0,1252.5 1607.5,1240.0 1600.0,1225.0 1597.5,1210.0 1587.5,1195.0 1580.0,1185.0 1575.0,1175.0 1562.5,1170.0" fill="#d088a4"/>
<polygon points="1600.0,1225.0 1605.0,1230.0 1612.5,1240.0 1620.0,1250.0 1627.5,1257.5 1635.0,1267.5 1642.5,1280.0 1645.0,1287.5 1650.0,1282.5 1650.0,1277.5 1660.0,1272.5 1665.0,1265.0 1672.5,1255.0 1675.0,1245.0 1682.5,1237.5 1690.0,1235.0 1700.0,1240.0 1712.5,1242.5 1722.5,1235.0 1722.5,1225.0" fill="#d088a4"/>
<polygon points="1345.0,1385.0 1352.5,1377.5 1360.0,1372.5 1367.5,1370.0 1375.0,1375.0 1380.0,1380.0 1382.5,1390.0 1395.0,1392.5 1392.5,1397.5 1382.5,1402.5 1377.5,1412.5 1365.0,1417.5 1355.0,1415.0 1352.5,1405.0 1350.0,1395.0" fill="#d088a4"/>
<polygon points="604.5,1158.4 608.4,1155.8 625.4,1160.4 626.7,1170.2 620.2,1172.2 626.7,1180.7 633.3,1191.1 626.7,1196.3 622.2,1199.6 633.3,1209.4 618.2,1210.1 617.6,1199.6 608.4,1195.0 596.7,1191.1 595.4,1180.7 604.5,1175.4 603.2,1162.4" fill="#feb400"/>
<polygon points="1357.7,868.7 1360.3,863.5 1366.8,858.3 1372.1,857.0 1376.0,858.3 1376.0,868.7 1373.4,872.7 1368.2,876.6 1362.9,874.0 1359.0,871.4" fill="#feb400"/>
<polygon points="1635.0,707.5 1642.5,705.0 1650.0,702.5 1657.5,700.0 1662.5,705.0 1660.0,712.5 1670.0,717.5 1677.5,720.0 1682.5,725.0 1675.0,727.5 1662.5,727.5 1660.0,722.5 1650.0,717.5 1640.0,715.0" fill="#feb400"/>
<polygon points="1625.0,1205.0 1630.0,1197.5 1640.0,1192.5 1650.0,1192.5 1657.5,1197.5 1662.5,1205.0 1665.0,1215.0 1662.5,1222.5 1660.0,1232.5 1650.0,1235.0 1637.5,1232.5 1630.0,1227.5 1627.5,1217.5" fill="#feb400"/>
<polygon points="1793.1,657.2 1800.1,653.7 1800.9,645.9 1807.0,643.2 1812.3,643.2 1815.7,645.9 1817.5,643.2 1821.8,643.2 1822.7,633.7 1829.7,638.0 1831.4,631.0 1834.0,631.9 1835.8,637.1 1841.9,638.9 1838.4,645.9 1838.4,650.2 1845.4,653.7 1847.1,656.3 1847.1,662.4 1853.2,662.4 1854.9,670.0 1855.0,667.5 1852.5,680.0 1860.0,692.5 1855.0,705.0 1865.0,717.5 1875.0,725.0 1882.5,730.0 1875.0,735.0 1862.5,730.0 1850.0,732.5 1847.5,745.0 1840.0,745.0 1832.5,750.0 1825.0,755.0 1822.5,762.5 1815.0,757.5 1805.0,755.0 1800.0,757.5 1795.0,755.0 1787.5,762.5 1780.0,765.0 1775.0,770.0 1765.0,775.0 1762.5,785.0 1757.5,780.0 1750.0,770.0 1740.0,770.0 1732.5,765.0 1727.5,772.5 1722.5,775.0 1717.5,770.0 1715.0,760.0 1710.0,755.0 1702.5,750.0 1697.5,745.0 1700.0,735.0 1707.5,732.5 1712.5,727.5 1710.0,722.5 1700.0,720.0 1692.5,720.0 1685.0,720.0 1690.0,705.0 1697.5,697.5 1695.0,687.5 1700.0,680.0 1712.5,680.0 1725.0,680.0 1735.0,680.0 1745.0,677.5 1755.0,677.5 1760.0,682.5 1765.0,685.0 1775.0,682.5 1785.0,680.0 1790.0,675.0 1792.5,665.0 1795.0,655.0 1800.0,650.0 1805.0,645.0" fill="#cc4a7b"/>
<polygon points="374.0,1075.0 386.5,1075.0 381.5,1081.2 379.0,1087.5 384.0,1092.5 399.0,1092.5 411.5,1087.5 416.5,1081.2 426.5,1083.8 439.0,1086.2 449.0,1092.5 456.5,1095.0 459.0,1098.8 469.0,1096.2 481.5,1093.8 489.0,1092.5 496.5,1100.0 489.0,1102.5 485.2,1107.5 491.5,1111.2 499.0,1115.0 506.5,1122.5 511.5,1130.0 512.8,1138.8 517.8,1143.8 516.5,1155.0 520.2,1165.0 529.0,1172.5 534.0,1182.5 534.0,1197.5 541.5,1207.5 534.0,1212.5 531.5,1220.0 534.0,1235.0 534.0,1250.0 542.8,1265.0 549.0,1275.0 549.0,1287.5 546.5,1297.5 556.5,1302.5 561.5,1307.5 561.5,1312.5 554.0,1317.5 549.0,1322.5 546.5,1330.0 544.0,1340.0 541.5,1350.0 539.0,1357.5 531.5,1365.0 529.0,1375.0 521.5,1376.2 509.0,1376.2 499.0,1377.5 491.5,1378.8 484.0,1375.0 476.5,1373.8 469.0,1370.0 461.5,1367.5 454.0,1368.8 451.5,1366.2 459.0,1360.0 464.0,1355.0 466.5,1345.0 464.0,1335.0 464.0,1325.0 466.5,1315.0 467.8,1300.0 469.0,1287.5 472.8,1280.0 469.0,1272.5 466.5,1265.0 459.0,1258.8 449.0,1252.5 444.0,1243.8 440.2,1238.8 436.5,1235.0 439.0,1227.5 437.8,1220.0 434.0,1215.0 431.5,1207.5 425.2,1200.0 421.5,1202.5 411.5,1200.0 404.0,1203.8 391.5,1202.5 379.0,1205.0 375.2,1211.2 371.5,1220.0 365.2,1226.2 356.5,1225.0 346.5,1228.8 334.0,1231.2 319.0,1235.0 317.8,1225.0 316.5,1210.0 320.2,1200.0 321.5,1197.5 311.5,1192.5 321.5,1190.0 331.5,1186.2 336.5,1182.5 346.5,1177.5 352.8,1170.0 356.5,1162.5 361.5,1155.0 369.0,1147.5 374.0,1140.0 376.5,1130.0 381.5,1115.0 379.0,1105.0 377.8,1097.5 379.0,1087.5 377.8,1080.0 374.5,1077.5" fill="#37559c"/>
<polygon points="852.5,1026.2 862.5,1026.2 870.0,1025.0 877.5,1023.8 878.8,1032.5 885.0,1040.0 895.0,1048.8 905.0,1046.2 912.5,1045.0 913.8,1053.8 922.5,1057.5 932.5,1060.0 936.2,1065.0 930.0,1075.0 935.0,1085.0 937.5,1092.5 946.2,1100.0 940.0,1105.0 932.5,1107.5 930.0,1117.5 927.5,1125.0 917.5,1135.0 907.5,1136.2 900.0,1137.5 893.8,1142.5 892.5,1150.0 896.2,1156.2 887.5,1160.0 875.0,1165.0 865.0,1166.2 852.5,1161.2 845.0,1162.5 838.8,1170.0 830.0,1172.5 817.5,1175.0 800.0,1180.0 790.0,1175.0 792.5,1162.5 792.5,1150.0 790.0,1140.0 788.8,1127.5 793.8,1125.0 795.0,1116.2 802.5,1113.8 805.0,1105.0 812.5,1103.8 820.0,1110.0 832.5,1106.2 842.5,1105.0 848.8,1100.0 850.0,1080.0 850.0,1062.5 851.2,1045.0 855.0,1035.0" fill="#37559c"/>
<polygon points="806.2,1281.2 815.0,1276.2 826.2,1271.2 828.8,1262.5 833.8,1258.8 841.2,1252.5 846.2,1250.0 855.0,1242.5 862.5,1240.0 866.2,1230.0 875.0,1226.2 885.0,1227.5 896.2,1223.8 905.0,1226.2 910.0,1231.2 916.2,1232.5 927.5,1236.2 937.5,1240.0 943.8,1242.5 942.5,1235.0 952.5,1233.8 958.8,1231.2 960.0,1240.0 970.0,1243.8 980.0,1242.5 987.5,1246.2 995.0,1247.5 1005.0,1247.5 1015.0,1250.0 1020.0,1260.0 1030.0,1262.5 1040.0,1266.2 1047.5,1270.0 1052.5,1266.2 1062.5,1263.8 1075.0,1260.0 1090.0,1255.0 1091.2,1245.0 1097.5,1241.2 1105.0,1240.0 1117.5,1236.2 1116.2,1230.0 1112.5,1222.5 1108.8,1213.8 1111.2,1205.0 1115.0,1198.8 1122.5,1193.8 1132.5,1192.5 1142.5,1188.8 1152.5,1185.0 1160.0,1181.2 1167.5,1176.2 1175.0,1166.2 1185.0,1166.2 1195.0,1167.5 1205.0,1170.0 1210.0,1165.0 1225.0,1163.8 1232.5,1157.5 1235.0,1165.0 1245.0,1172.5 1243.8,1180.0 1247.5,1187.5 1252.5,1192.5 1256.2,1200.0 1265.0,1205.0 1272.5,1210.0 1280.0,1215.0 1275.0,1217.5 1265.0,1217.5 1257.5,1222.5 1252.5,1227.5 1255.0,1235.0 1258.8,1240.0 1255.0,1250.0 1250.0,1257.5 1247.5,1267.5 1242.5,1275.0 1237.5,1282.5 1232.5,1287.5 1240.0,1298.8 1250.0,1296.2 1260.0,1291.2 1271.2,1288.8 1280.0,1296.2 1285.0,1312.5 1290.0,1322.5 1305.0,1323.8 1315.0,1326.2 1321.2,1318.8 1317.5,1333.8 1330.0,1340.0 1336.2,1345.0 1342.5,1355.0 1354.0,1358.8 1355.0,1365.0 1342.5,1373.8 1330.0,1375.0 1320.0,1380.0 1305.0,1380.0 1295.0,1386.2 1280.0,1391.2 1277.5,1387.5 1270.0,1380.0 1277.5,1372.5 1277.5,1360.0 1272.5,1355.0 1255.0,1352.5 1242.5,1347.5 1230.0,1345.0 1212.5,1347.5 1202.5,1350.0 1190.0,1352.5 1185.0,1357.5 1170.0,1357.5 1155.0,1360.0 1146.2,1358.8 1145.0,1365.0 1142.5,1370.0 1145.0,1375.0 1140.0,1382.5 1145.0,1387.5 1147.5,1392.5 1145.0,1400.0 1155.0,1400.0 1170.0,1398.8 1180.0,1400.0 1177.5,1405.0 1175.0,1410.0 1177.5,1415.0 1175.0,1422.5 1170.0,1427.5 1165.0,1433.8 1155.0,1435.0 1142.5,1435.0 1135.0,1431.2 1127.5,1431.2 1120.0,1437.5 1110.0,1437.5 1097.5,1440.0 1092.5,1435.0 1080.0,1430.0 1075.0,1426.2 1065.0,1425.0 1057.5,1425.0 1050.0,1425.0 1040.0,1422.5 1030.0,1422.5 1017.5,1425.0 1005.0,1423.8 992.5,1423.8 987.5,1417.5 980.0,1415.0 970.0,1412.5 962.5,1408.8 950.0,1407.5 937.5,1407.5 925.0,1410.0 915.0,1405.0 905.0,1401.2 897.5,1398.8 885.0,1392.5 875.0,1386.2 872.5,1380.0 867.5,1367.5 850.0,1365.0 847.5,1357.5 850.0,1350.0 853.8,1342.5 850.0,1337.5 845.0,1327.5 837.5,1326.2 830.0,1328.8 826.2,1321.2 817.5,1317.5 812.5,1312.5 815.0,1305.0 810.0,1300.0 808.8,1287.5" fill="#37559c"/>
<polygon points="1060.0,793.8 1072.5,795.0 1073.8,802.5 1082.5,802.5 1090.0,807.5 1096.2,815.0 1100.0,826.2 1095.0,832.5 1093.8,845.0 1095.0,855.0 1093.8,867.5 1092.5,878.8 1090.0,885.0 1091.2,891.2 1090.0,898.8 1090.0,902.5 1077.5,907.5 1065.0,911.2 1055.0,912.5 1050.0,907.5 1042.5,902.5 1035.0,897.5 1025.0,892.5 1016.2,893.8 1005.0,895.0 995.0,897.5 990.0,900.0 982.5,902.5 980.0,906.2 978.8,903.8 975.0,897.5 967.5,890.0 960.0,885.0 953.8,877.5 951.2,868.8 952.5,862.5 960.0,860.0 965.0,852.5 967.5,845.0 975.0,842.5 978.8,835.0 982.5,832.5 992.5,830.0 1000.0,827.5 1007.5,822.5 1012.5,817.5 1015.0,811.2 1022.5,806.2 1035.0,802.5 1045.0,798.8 1055.0,795.0" fill="#37559c"/>
<polygon points="1114.0,694.0 1117.5,690.9 1120.9,694.0 1123.6,690.9 1127.9,687.9 1130.5,682.6 1133.1,680.5 1137.5,682.6 1141.8,687.0 1147.1,690.5 1150.6,690.5 1153.2,687.0 1156.7,688.7 1160.1,692.2 1166.2,693.5 1168.9,695.7 1171.5,700.1 1175.8,701.8 1180.2,704.4 1186.3,706.2 1189.8,711.4 1193.2,715.7 1200.2,721.8 1205.4,723.6 1210.7,727.1 1215.9,732.3 1221.1,736.7 1220.2,740.1 1212.4,740.1 1210.7,738.4 1206.3,739.3 1202.0,735.8 1197.6,734.0 1194.1,731.4 1188.9,731.0 1185.4,733.2 1181.0,735.8 1181.0,741.9 1179.3,746.2 1181.9,751.5 1184.5,755.8 1188.9,760.2 1188.0,764.5 1187.1,769.8 1188.0,774.1 1188.0,780.2 1183.7,782.0 1178.4,784.6 1175.8,788.9 1172.3,794.1 1171.5,802.9 1165.4,802.9 1166.2,792.4 1164.5,788.0 1158.4,788.0 1154.9,786.3 1149.7,782.8 1148.8,776.7 1141.0,777.6 1136.6,776.7 1132.3,775.9 1127.9,776.7 1123.6,775.0 1116.6,774.1 1114.0,772.4 1113.1,768.9 1110.5,767.1 1111.4,761.0 1113.1,755.8 1113.1,747.1 1115.7,740.1 1114.8,736.7 1114.0,729.7 1115.7,722.7 1118.3,715.7 1119.6,710.5 1117.5,705.3 1116.6,701.8 1114.8,696.6" fill="#37559c"/>
<polygon points="1253.3,825.2 1256.6,819.4 1262.4,817.7 1266.6,816.0 1269.0,815.2 1271.5,817.7 1274.8,819.4 1279.0,819.4 1282.3,825.2 1281.4,828.5 1277.3,831.0 1273.2,833.5 1270.7,836.0 1266.6,837.6 1262.0,841.0 1256.0,844.0 1254.0,838.0 1252.5,830.0" fill="#37559c"/>
<polygon points="1447.5,660.0 1462.5,652.5 1475.0,640.0 1490.0,630.0 1492.5,620.0 1515.0,612.5 1530.0,610.0 1550.0,597.5 1574.0,592.5 1574.0,588.8 1580.0,587.5 1590.0,585.0 1595.0,582.5 1600.0,590.0 1602.5,597.5 1607.5,605.0 1605.0,612.5 1610.0,620.0 1615.0,627.5 1622.5,630.0 1630.0,631.2 1625.0,635.0 1622.5,645.0 1615.0,642.5 1607.5,645.0 1600.0,650.0 1595.0,655.0 1590.0,655.0 1585.0,650.0 1577.5,647.5 1578.8,655.0 1580.0,665.0 1577.5,675.0 1580.0,685.0 1575.0,692.5 1572.5,700.0 1580.0,705.0 1587.5,712.5 1592.5,720.0 1590.0,727.5 1582.5,732.5 1575.0,735.0 1565.0,737.5 1555.0,742.5 1545.0,745.0 1535.0,752.5 1530.0,747.5 1520.0,745.0 1510.0,745.0 1500.0,745.0 1500.0,750.0 1492.5,745.0 1485.0,735.0 1487.5,730.0 1480.0,717.5 1472.5,705.0 1475.0,695.0 1465.0,687.5 1450.0,677.5" fill="#37559c"/>
<polygon points="1649.9,803.5 1652.5,798.3 1651.2,787.8 1653.8,783.9 1660.3,782.0 1668.2,777.4 1676.0,774.8 1689.1,774.8 1689.1,782.6 1683.8,786.5 1677.3,790.5 1672.1,793.1 1669.5,799.6 1669.5,806.1 1670.8,812.7 1670.8,819.2 1668.2,821.8 1662.9,821.8 1656.4,819.2 1655.1,814.0 1652.5,810.1 1648.6,806.1" fill="#37559c"/>
<polygon points="1514.6,836.2 1519.2,829.7 1528.3,825.7 1536.2,825.1 1545.3,823.1 1549.3,827.0 1551.9,831.0 1558.4,828.3 1561.0,829.7 1559.7,833.6 1564.9,834.9 1571.5,840.1 1579.3,846.6 1583.2,849.3 1584.5,853.2 1580.6,855.8 1579.3,861.0 1580.6,868.9 1581.9,874.1 1583.2,881.9 1584.5,888.4 1588.4,893.7 1595.0,896.3 1597.6,900.2 1598.9,908.0 1597.6,913.3 1592.4,915.9 1587.1,917.2 1583.2,919.8 1580.6,922.4 1574.1,923.7 1568.9,926.3 1563.6,930.3 1558.4,932.2 1561.0,936.8 1566.2,939.4 1574.1,943.3 1572.8,948.6 1571.5,955.1 1571.5,961.6 1570.2,965.5 1564.9,965.5 1558.4,966.8 1553.2,968.2 1545.3,969.5 1536.2,972.1 1529.7,972.1 1524.4,972.1 1517.9,973.4 1511.4,976.0 1506.1,979.9 1502.2,986.4 1495.7,987.8 1490.5,986.4 1487.8,981.2 1483.9,976.0 1483.9,970.8 1481.3,964.2 1480.0,960.3 1483.9,956.4 1487.8,953.8 1490.5,949.9 1493.1,945.9 1497.0,940.7 1503.5,938.1 1500.9,932.9 1499.6,930.3 1503.5,926.3 1506.1,921.1 1508.7,915.9 1512.7,912.0 1515.3,909.4 1512.7,905.4 1504.8,905.4 1502.2,902.8 1500.9,897.6 1502.2,892.4 1497.0,889.8 1493.1,888.4 1489.1,884.5 1485.2,879.3 1487.8,876.7 1483.9,874.1 1480.0,872.8 1485.2,871.5 1490.5,867.5 1499.6,863.6 1504.8,862.3 1504.2,857.1 1506.1,853.2 1512.7,850.6 1514.0,841.4" fill="#37559c"/>
<polygon points="1705.0,1060.0 1715.0,1050.0 1720.0,1047.5 1732.5,1047.5 1742.5,1045.0 1752.5,1037.5 1765.0,1037.5 1782.5,1040.0 1795.0,1045.0 1802.5,1035.0 1805.0,1040.0 1810.0,1055.0 1817.5,1067.5 1810.0,1072.5 1802.5,1077.5 1805.0,1082.5 1797.5,1087.5 1787.5,1093.8 1800.0,1110.0 1807.5,1135.0 1815.0,1167.5 1817.5,1182.5 1815.0,1197.5 1825.0,1220.0 1830.0,1230.0 1820.0,1235.0 1817.5,1250.0 1812.5,1270.0 1690.0,1270.0 1690.0,1255.0 1692.5,1245.0 1700.0,1237.5 1710.0,1240.0 1717.5,1235.0 1720.0,1230.0 1725.0,1225.0 1735.0,1222.5 1745.0,1217.5 1750.0,1212.5 1757.5,1210.0 1762.5,1205.0 1765.0,1197.5 1762.5,1190.0 1757.5,1182.5 1747.5,1170.0 1740.0,1165.0 1730.0,1157.5 1725.0,1147.5 1722.5,1140.0 1720.0,1130.0 1717.5,1120.0 1717.5,1107.5 1725.0,1102.5 1730.0,1097.5 1722.5,1087.5 1720.0,1077.5 1712.5,1067.5" fill="#37559c"/>
<polygon points="1822.5,1245.0 1708.0,1245.0 1703.7,1243.2 1701.1,1239.7 1695.8,1237.9 1693.2,1239.7 1690.6,1244.0 1689.7,1248.4 1688.9,1252.8 1690.6,1257.1 1693.2,1261.5 1694.9,1265.8 1695.8,1274.5 1700.2,1276.2 1704.5,1277.1 1713.2,1279.7 1714.1,1282.3 1713.2,1284.9 1716.7,1288.4 1716.7,1296.3 1715.8,1300.6 1716.7,1310.0 1720.0,1312.5 1730.0,1320.0 1735.0,1325.0 1725.0,1332.5 1730.0,1337.5 1737.5,1345.0 1745.0,1342.5 1750.0,1340.0 1760.0,1337.5 1770.0,1340.0 1780.0,1345.0 1790.0,1348.8 1800.0,1351.2 1810.0,1355.0 1810.0,1347.5 1807.5,1340.0 1802.5,1335.0 1797.5,1327.5 1797.5,1315.0 1795.0,1302.5 1797.5,1292.5 1800.0,1280.0 1805.0,1267.5 1812.5,1255.0 1817.5,1245.0 1822.5,1242.5" fill="#37559c"/>
<polygon points="1810.0,950.0 1815.0,942.5 1817.5,930.0 1820.0,917.5 1817.5,910.0 1820.0,905.0 1825.0,910.0 1835.0,910.0 1837.5,915.0 1832.5,925.0 1827.5,932.5 1822.5,940.0 1815.0,947.5" fill="#37559c"/>
<polygon points="1405.0,1467.5 1412.5,1455.0 1415.0,1445.0 1410.0,1435.0 1412.5,1425.0 1417.5,1415.0 1420.0,1407.5 1425.0,1400.0 1422.5,1390.0 1427.5,1380.0 1435.0,1370.0 1440.0,1360.0 1442.5,1350.0 1450.0,1345.0 1452.5,1330.0 1457.5,1325.0 1465.0,1330.0 1475.0,1337.5 1480.0,1345.0 1485.0,1355.0 1495.0,1365.0 1507.5,1375.0 1520.0,1382.5 1532.5,1387.5 1525.0,1395.0 1520.0,1400.0 1512.5,1405.0 1507.5,1412.5 1505.0,1420.0 1505.0,1430.0 1500.0,1437.5 1490.0,1440.0 1480.0,1445.0 1475.0,1450.0 1467.5,1455.0 1460.0,1465.0 1450.0,1467.5 1447.5,1477.5 1445.0,1487.5 1440.0,1487.5 1435.0,1480.0 1425.0,1477.5 1412.5,1472.5" fill="#37559c"/>
<polygon points="1806.3,780.6 1813.3,779.7 1818.5,780.6 1825.4,782.3 1832.3,784.0 1835.8,785.8 1832.3,790.1 1830.6,793.5 1825.4,795.3 1818.5,797.0 1815.0,799.6 1816.7,802.2 1830.6,802.2 1839.2,801.3 1850.5,800.5 1853.1,806.5 1856.5,811.7 1863.4,807.4 1865.2,815.2 1865.2,831.6 1864.3,836.8 1863.4,841.1 1863.4,849.8 1860.0,849.8 1853.1,846.3 1847.9,843.7 1842.7,841.1 1835.8,840.3 1830.6,842.9 1825.4,841.1 1818.5,842.9 1813.3,841.1 1806.3,840.3 1801.1,835.9 1799.4,832.5 1796.0,831.6 1792.5,830.8 1787.3,832.5 1785.6,829.0 1791.6,823.8 1790.8,815.2 1789.9,806.5 1790.8,799.6 1796.0,796.1 1801.1,794.4 1802.9,792.7 1804.6,787.5" fill="#9e3a62"/>
<polygon points="1806.3,758.1 1811.5,761.5 1815.0,765.0 1820.2,765.0 1823.6,758.9 1828.8,752.9 1834.0,747.7 1839.2,745.1 1843.5,745.1 1846.1,742.5 1847.0,734.7 1851.3,732.1 1856.5,731.2 1860.9,732.5 1863.4,736.4 1867.8,739.9 1873.8,740.8 1879.0,744.2 1884.2,747.7 1887.7,756.3 1889.4,768.5 1891.1,777.1 1892.9,784.0 1898.1,786.6 1901.5,789.2 1901.5,796.1 1897.2,797.0 1891.1,794.4 1885.1,791.0 1879.0,792.7 1873.8,797.0 1867.8,800.5 1866.9,805.7 1863.4,803.1 1860.0,800.5 1854.8,798.7 1851.3,797.0 1846.1,796.1 1839.2,796.1 1834.9,795.3 1830.6,793.5 1832.3,789.2 1836.6,785.8 1835.8,782.3 1830.6,781.4 1825.4,778.8 1818.5,777.1 1812.4,776.2 1808.1,775.4 1804.6,772.8 1803.7,766.7 1804.6,762.4" fill="#37559c"/>
<polygon points="1846.1,742.5 1847.0,734.7 1851.3,732.1 1856.5,731.2 1860.9,732.5 1863.4,736.4 1862.6,746.0 1861.7,754.6 1856.5,760.7 1852.2,765.0 1847.9,766.7 1846.1,761.5 1846.6,754.6 1845.3,748.6" fill="#22408a"/>
<polygon points="1841.8,785.8 1847.9,783.2 1853.1,780.6 1860.9,782.3 1869.5,785.8 1880.8,789.2 1885.1,791.0 1879.0,792.7 1873.8,797.0 1867.8,800.5 1866.9,805.7 1863.4,803.1 1860.0,800.5 1854.8,798.7 1851.3,797.0 1846.1,796.1 1841.0,795.3 1839.2,791.0" fill="#22408a"/>
<polygon points="1826.2,759.8 1828.8,752.9 1834.0,747.7 1839.2,745.1 1843.5,746.0 1846.1,749.4 1847.0,756.3 1846.1,763.3 1845.3,768.5 1843.5,770.2 1841.8,775.4 1841.0,780.6 1838.4,779.7 1837.5,775.4 1835.8,771.9 1832.3,770.2 1826.2,765.0" fill="#d088a4"/>
<polygon points="1804.6,762.4 1806.3,758.1 1811.5,761.5 1815.0,765.0 1820.2,766.7 1818.5,771.1 1821.9,773.6 1828.8,775.4 1834.0,778.8 1835.8,782.3 1830.6,783.2 1825.4,780.6 1818.5,778.0 1812.4,777.1 1808.1,775.4 1804.6,772.8 1803.7,766.7" fill="#feb400"/>
<polygon points="1841.8,778.8 1843.5,779.7 1842.7,782.3 1841.4,781.9" fill="#feb400"/>
<polygon points="1852.2,779.7 1856.5,777.1 1860.9,780.6 1861.7,782.3 1856.5,784.9 1853.9,784.0" fill="#feb400"/>
<polygon points="1815.0,799.6 1818.5,797.0 1823.6,795.3 1830.6,794.4 1839.2,795.3 1846.1,796.1 1851.3,797.0 1850.5,799.6 1846.1,800.5 1839.2,800.5 1830.6,801.3 1821.9,801.3 1816.7,801.8" fill="#feb400"/>
<polyline points="1182.5,932.5 1195.0,922.5 1200.0,910.0 1205.0,898.8" fill="none" stroke="rgba(90,80,80,0.33)" stroke-width="1.3" stroke-linejoin="round"/>
<polyline points="1260.0,898.8 1265.0,932.5 1285.0,942.5 1290.0,950.0 1285.0,960.0 1272.5,967.5 1275.0,982.5 1285.0,997.5 1275.0,1002.5" fill="none" stroke="rgba(90,80,80,0.33)" stroke-width="1.3" stroke-linejoin="round"/>
<polyline points="1540.0,972.5 1537.5,1012.5 1510.0,1025.0 1500.0,1022.5 1480.0,1037.5 1465.0,1037.5 1450.0,1050.0 1440.0,1070.0 1432.5,1095.0 1427.5,1097.5 1417.5,1092.5 1400.0,1085.0 1385.0,1087.5 1375.0,1092.5 1362.5,1105.0 1345.0,1115.0 1335.0,1125.0 1335.0,1140.0 1315.0,1155.0 1295.0,1160.0 1280.0,1165.0 1260.0,1170.0 1247.5,1172.5" fill="none" stroke="rgba(90,80,80,0.33)" stroke-width="1.3" stroke-linejoin="round"/>
<polyline points="1335.0,1140.0 1350.0,1150.0 1370.0,1160.0 1377.5,1170.0 1380.0,1190.0 1392.5,1195.0 1410.0,1200.0 1417.5,1212.5 1422.5,1225.0 1435.0,1250.0 1440.0,1257.5" fill="none" stroke="rgba(90,80,80,0.33)" stroke-width="1.3" stroke-linejoin="round"/>
<polyline points="1427.5,1097.5 1432.5,1112.5 1460.0,1125.0 1475.0,1117.5 1495.0,1122.5 1507.5,1140.0 1520.0,1145.0 1530.0,1155.0 1545.0,1165.0" fill="none" stroke="rgba(90,80,80,0.33)" stroke-width="1.3" stroke-linejoin="round"/>
<polyline points="1507.5,1025.0 1520.0,1045.0 1535.0,1055.0 1540.0,1070.0 1552.5,1080.0 1567.5,1082.5 1575.0,1100.0 1582.5,1120.0 1590.0,1120.0" fill="none" stroke="rgba(90,80,80,0.33)" stroke-width="1.3" stroke-linejoin="round"/>
<polyline points="1545.0,1165.0 1532.5,1175.0 1520.0,1187.5 1512.5,1200.0 1515.0,1215.0 1505.0,1225.0 1497.5,1235.0" fill="none" stroke="rgba(90,80,80,0.33)" stroke-width="1.3" stroke-linejoin="round"/>
<polyline points="1630.0,1120.0 1635.0,1105.0 1660.0,1095.0 1665.0,1085.0 1675.0,1080.0" fill="none" stroke="rgba(90,80,80,0.33)" stroke-width="1.3" stroke-linejoin="round"/>
<polyline points="1442.5,1252.5 1450.0,1267.5 1457.5,1275.0 1455.0,1305.0" fill="none" stroke="rgba(90,80,80,0.33)" stroke-width="1.3" stroke-linejoin="round"/>
<polyline points="1545.0,1282.5 1562.5,1277.5 1575.0,1262.5 1600.0,1257.5 1615.0,1262.5 1625.0,1275.0" fill="none" stroke="rgba(90,80,80,0.33)" stroke-width="1.3" stroke-linejoin="round"/>
<polyline points="1100.0,1082.5 1110.0,1080.0 1122.5,1095.0 1132.5,1100.0 1145.0,1092.5 1150.0,1087.5" fill="none" stroke="rgba(90,80,80,0.33)" stroke-width="1.3" stroke-linejoin="round"/>
<polyline points="707.5,1072.5 730.0,1090.0 725.0,1105.0 715.0,1115.0 715.0,1127.5 730.0,1137.5 747.5,1147.5 755.0,1160.0" fill="none" stroke="rgba(90,80,80,0.33)" stroke-width="1.3" stroke-linejoin="round"/>
<polyline points="1022.5,1100.0 1037.5,1117.5 1035.0,1145.0 1042.5,1170.0 1035.0,1195.0 1037.5,1225.0 1035.0,1240.0 1035.0,1250.0 1030.0,1260.0" fill="none" stroke="rgba(90,80,80,0.33)" stroke-width="1.3" stroke-linejoin="round"/>
<polyline points="1030.0,1085.0 1052.5,1077.5 1065.0,1070.0 1075.0,1075.0 1095.0,1080.0 1115.0,1080.0 1125.0,1087.5 1132.5,1100.0 1150.0,1090.0 1162.5,1090.0" fill="none" stroke="rgba(90,80,80,0.33)" stroke-width="1.3" stroke-linejoin="round"/>
<polyline points="990.0,1372.5 1000.0,1375.0 1025.0,1382.5 1050.0,1386.2 1075.0,1385.0 1090.0,1380.0 1110.0,1385.0 1125.0,1390.0 1137.5,1397.5" fill="none" stroke="rgba(90,80,80,0.33)" stroke-width="1.3" stroke-linejoin="round"/>
<polyline points="179.0,1125.0 199.0,1135.0 214.0,1140.0 221.5,1152.5 224.0,1162.5 219.0,1175.0 224.0,1185.0 229.0,1192.5" fill="none" stroke="rgba(90,80,80,0.33)" stroke-width="1.3" stroke-linejoin="round"/>
<polyline points="219.0,1197.5 209.0,1202.5 199.0,1207.5 184.0,1217.5 176.5,1225.0 174.0,1242.5" fill="none" stroke="rgba(90,80,80,0.33)" stroke-width="1.3" stroke-linejoin="round"/>
<polyline points="399.0,1190.0 409.0,1200.0 419.0,1190.0 429.0,1185.0 434.0,1172.5 446.5,1165.0 459.0,1155.0 471.5,1150.0 484.0,1165.0 509.0,1155.0 519.0,1150.0" fill="none" stroke="rgba(90,80,80,0.33)" stroke-width="1.3" stroke-linejoin="round"/>
<polyline points="1530.0,505.0 1537.5,530.0 1532.5,545.0 1530.0,562.5 1525.0,587.5 1532.5,610.0" fill="none" stroke="rgba(90,80,80,0.33)" stroke-width="1.3" stroke-linejoin="round"/>
<polyline points="1635.0,535.0 1642.5,552.5 1622.5,565.0 1620.0,580.0 1617.5,597.5 1605.0,605.0" fill="none" stroke="rgba(90,80,80,0.33)" stroke-width="1.3" stroke-linejoin="round"/>
<polyline points="1675.0,552.5 1695.0,562.5 1710.0,570.0 1705.0,580.0 1695.0,595.0 1697.5,607.5 1727.5,612.5 1722.5,630.0 1720.0,640.0 1690.0,642.5 1682.5,655.0" fill="none" stroke="rgba(90,80,80,0.33)" stroke-width="1.3" stroke-linejoin="round"/>
<polyline points="1755.0,677.5 1747.5,705.0 1750.0,720.0 1775.0,725.0 1800.0,720.0 1820.0,722.5 1837.5,730.0 1840.0,742.5" fill="none" stroke="rgba(90,80,80,0.33)" stroke-width="1.3" stroke-linejoin="round"/>
<polyline points="1912.5,612.5 1935.0,607.5 1950.0,612.5 1967.5,605.0" fill="none" stroke="rgba(90,80,80,0.33)" stroke-width="1.3" stroke-linejoin="round"/>
<polyline points="1912.5,612.5 1915.0,630.0 1917.5,642.5 1910.0,655.0 1910.0,670.0 1890.0,675.0 1885.0,680.0 1890.0,700.0 1900.0,715.0 1912.5,722.5" fill="none" stroke="rgba(90,80,80,0.33)" stroke-width="1.3" stroke-linejoin="round"/>
<polyline points="1632.5,747.5 1650.0,740.0 1670.0,730.0 1685.0,725.0" fill="none" stroke="rgba(90,80,80,0.33)" stroke-width="1.3" stroke-linejoin="round"/>
<polyline points="1725.0,835.0 1740.0,827.5 1750.0,820.0 1757.5,805.0" fill="none" stroke="rgba(90,80,80,0.33)" stroke-width="1.3" stroke-linejoin="round"/>
<polyline points="1263.6,751.5 1266.2,761.9 1274.1,771.1 1284.5,773.7 1293.7,775.0 1302.8,769.8 1309.4,775.0 1318.5,775.0 1321.1,764.5 1327.6,759.3 1332.9,751.5 1330.3,746.2" fill="none" stroke="rgba(90,80,80,0.33)" stroke-width="1.3" stroke-linejoin="round"/>
<polyline points="1293.7,775.0 1295.0,784.1 1297.6,789.4 1293.7,795.9 1292.4,803.7 1297.6,816.8 1293.7,829.9 1292.4,842.9 1297.6,856.0 1293.7,869.1" fill="none" stroke="rgba(90,80,80,0.33)" stroke-width="1.3" stroke-linejoin="round"/>
<polyline points="1323.7,760.6 1323.7,777.6 1326.3,790.7 1327.6,798.5 1331.6,803.7 1343.3,810.3 1352.5,816.8 1360.3,824.6" fill="none" stroke="rgba(90,80,80,0.33)" stroke-width="1.3" stroke-linejoin="round"/>
<polyline points="1232.3,801.1 1250.6,802.4 1258.4,798.5" fill="none" stroke="rgba(90,80,80,0.33)" stroke-width="1.3" stroke-linejoin="round"/>
<polyline points="1371.1,1160.0 1375.8,1183.5 1394.6,1192.9 1411.1,1207.0 1418.2,1221.1 1427.6,1237.6 1434.6,1251.7" fill="none" stroke="rgba(90,80,80,0.33)" stroke-width="1.3" stroke-linejoin="round"/>
<polyline points="1434.6,1254.1 1451.1,1263.5 1455.8,1277.6 1451.1,1305.8 1453.4,1319.9" fill="none" stroke="rgba(90,80,80,0.33)" stroke-width="1.3" stroke-linejoin="round"/>
<polyline points="1495.8,1235.3 1505.2,1218.8 1516.9,1202.3 1524.0,1178.8 1542.8,1169.4" fill="none" stroke="rgba(90,80,80,0.33)" stroke-width="1.3" stroke-linejoin="round"/>
<polyline points="1545.2,1282.3 1554.6,1270.5 1573.4,1263.5 1587.5,1258.8 1606.3,1254.1 1615.7,1261.1" fill="none" stroke="rgba(90,80,80,0.33)" stroke-width="1.3" stroke-linejoin="round"/>
<polyline points="1648.6,1291.7 1634.5,1310.5 1629.8,1329.3 1632.2,1348.2 1627.5,1362.3" fill="none" stroke="rgba(90,80,80,0.33)" stroke-width="1.3" stroke-linejoin="round"/>
<polyline points="1230.0,1399.9 1248.8,1395.2 1272.3,1392.8 1305.3,1388.1 1319.4,1395.2" fill="none" stroke="rgba(90,80,80,0.33)" stroke-width="1.3" stroke-linejoin="round"/>
<polyline points="1305.3,1388.1 1310.0,1409.3 1307.6,1423.4" fill="none" stroke="rgba(90,80,80,0.33)" stroke-width="1.3" stroke-linejoin="round"/>
<polyline points="1806.3,758.1 1811.5,761.5 1815.0,765.0 1820.2,765.0 1823.6,758.9 1828.8,752.9 1834.0,747.7 1839.2,745.1 1843.5,745.1 1846.1,742.5 1847.0,734.7 1851.3,732.1 1856.5,731.2 1860.9,732.5 1863.4,736.4 1867.8,739.9 1873.8,740.8 1879.0,744.2 1884.2,747.7 1887.7,756.3 1889.4,768.5 1891.1,777.1 1892.9,784.0 1898.1,786.6 1901.5,789.2 1901.5,796.1 1897.2,797.0 1891.1,794.4 1885.1,791.0 1879.0,792.7 1873.8,797.0 1867.8,800.5 1866.9,805.7 1863.4,803.1 1860.0,800.5 1854.8,798.7 1851.3,797.0 1846.1,796.1 1839.2,796.1 1834.9,795.3 1830.6,793.5 1832.3,789.2 1836.6,785.8 1835.8,782.3 1830.6,781.4 1825.4,778.8 1818.5,777.1 1812.4,776.2 1808.1,775.4 1804.6,772.8 1803.7,766.7 1804.6,762.4 1806.3,758.1" fill="none" stroke="#3a3f44" stroke-width="1.8" stroke-linejoin="round"/>
<polyline points="311.5,1192.5 321.5,1197.5 320.2,1200.0 316.5,1210.0 317.8,1225.0 319.0,1237.5 314.0,1245.0 309.0,1251.2 301.5,1257.5 299.0,1270.0 304.0,1280.0 306.5,1290.0 302.8,1297.5 304.0,1307.5 299.0,1316.2 290.2,1320.0 291.5,1327.5 299.0,1340.0 302.8,1347.5" fill="none" stroke="#3a3f44" stroke-width="1.8" stroke-linejoin="round"/>
<polyline points="798.8,1190.0 797.5,1195.0 795.0,1212.5 800.0,1232.5 805.0,1245.0 808.8,1255.0" fill="none" stroke="#3a3f44" stroke-width="1.8" stroke-linejoin="round"/>
<polyline points="808.8,1255.0 833.8,1257.5 841.2,1252.5 855.0,1242.5 862.5,1240.0 866.2,1230.0 875.0,1226.2 885.0,1227.5 896.2,1223.8 905.0,1226.2 916.2,1232.5 927.5,1236.2 942.5,1242.5 942.5,1235.0 952.5,1233.8 958.8,1231.2 960.0,1240.0 970.0,1243.8 980.0,1242.5 987.5,1246.2 1005.0,1247.5 1015.0,1250.0 1020.0,1260.0 1030.0,1262.5 1040.0,1266.2 1047.5,1270.0 1052.5,1266.2 1062.5,1263.8 1075.0,1260.0 1090.0,1255.0 1091.2,1245.0 1097.5,1241.2 1105.0,1240.0 1117.5,1236.2 1125.0,1237.5 1135.0,1242.5 1155.0,1245.0 1175.0,1250.0 1192.5,1253.8 1205.0,1255.0 1210.0,1270.0 1225.0,1275.0 1230.0,1287.5 1240.0,1298.8 1250.0,1296.2 1260.0,1291.2 1270.0,1287.5 1272.5,1280.0 1287.5,1270.0 1287.5,1262.5 1300.0,1260.0 1307.5,1255.0 1315.0,1242.5 1327.5,1238.8 1333.8,1233.8 1340.0,1247.5 1345.0,1251.2 1354.0,1251.2" fill="none" stroke="#3a3f44" stroke-width="1.8" stroke-linejoin="round"/>
<polyline points="942.5,1242.5 955.0,1255.0 967.5,1262.5 962.5,1270.0 960.0,1282.5 972.5,1297.5 987.5,1310.0 990.0,1320.0 992.5,1330.0 1005.0,1340.0 1022.5,1352.5 1020.0,1360.0 1007.5,1361.2 997.5,1367.5 985.0,1370.0 970.0,1372.5 960.0,1377.5 958.8,1390.0 955.0,1397.5 955.0,1407.5" fill="none" stroke="#3a3f44" stroke-width="1.8" stroke-linejoin="round"/>
<polyline points="980.0,908.8 990.0,900.0 995.0,897.5 1005.0,895.0 1016.2,893.8 1025.0,892.5 1035.0,897.5 1042.5,902.5 1050.0,907.5 1055.0,912.5 1065.0,911.2 1077.5,907.5 1090.0,902.5 1095.0,907.5 1105.0,910.0 1107.5,916.2 1105.0,922.5 1100.0,922.5 1092.5,917.5 1086.2,920.0 1086.2,930.0 1087.5,955.0 1090.0,970.0 1105.0,975.0 1120.0,976.2 1130.0,975.0 1140.0,975.0 1150.0,977.5 1151.2,982.5 1145.0,985.0 1137.5,982.5 1130.0,987.5 1128.8,997.5 1140.0,1002.5 1155.0,1006.2 1155.0,1015.0 1147.5,1020.0 1145.0,1027.5 1142.5,1035.0 1148.8,1040.0 1145.0,1050.0 1142.5,1060.0 1142.5,1075.0 1150.0,1082.5 1160.0,1087.5 1170.0,1092.5 1180.0,1095.0 1190.0,1096.2 1205.0,1096.2 1206.2,1085.0 1212.5,1075.0 1210.0,1065.0 1205.0,1055.0 1197.5,1052.5 1195.0,1045.0" fill="none" stroke="#3a3f44" stroke-width="1.8" stroke-linejoin="round"/>
<polyline points="1170.0,1092.5 1167.5,1105.0 1165.0,1117.5 1170.0,1130.0 1175.0,1142.5 1177.5,1162.5 1180.0,1170.0" fill="none" stroke="#3a3f44" stroke-width="1.8" stroke-linejoin="round"/>
<polyline points="1378.6,840.0 1383.8,845.2 1377.3,854.4 1377.3,870.1 1383.8,879.2 1387.8,887.0 1395.6,889.7 1404.7,893.6 1413.9,900.1 1419.1,904.0 1428.3,905.3 1438.7,907.9 1442.6,910.6 1446.6,906.6 1451.8,913.2 1459.6,926.2 1454.4,931.5 1447.9,935.4 1445.2,939.3 1447.9,941.9 1446.6,944.5 1447.9,951.1 1450.5,956.3 1446.6,961.5 1447.9,965.4 1451.8,972.0 1455.7,973.3 1457.0,977.2 1462.2,982.4 1467.5,981.1 1475.3,977.2 1480.0,977.2" fill="none" stroke="#3a3f44" stroke-width="1.8" stroke-linejoin="round"/>
<polyline points="1442.6,970.7 1437.4,978.5 1432.2,982.4 1428.3,985.0 1421.7,986.3 1415.2,989.0 1408.7,991.6 1402.1,996.8 1400.8,1002.0 1399.5,1004.6 1394.3,1004.6 1391.7,1007.2 1387.8,1009.9 1383.8,1012.5 1381.2,1015.1 1377.3,1016.4 1372.1,1017.7 1369.5,1020.3 1368.2,1022.9 1362.9,1025.5 1359.0,1028.2 1355.1,1030.8 1353.8,1034.7 1347.2,1036.0 1342.0,1033.4 1336.8,1033.4 1334.2,1030.8 1330.3,1025.5 1329.0,1020.3 1323.7,1020.3 1321.1,1020.3 1317.2,1022.9 1310.7,1025.5 1305.4,1028.2 1300.2,1030.8 1295.0,1032.1 1288.4,1034.7 1284.5,1034.7 1283.9,1029.5 1283.9,1022.9 1284.5,1016.4 1279.3,1009.9 1274.1,1005.9 1271.5,1004.6 1268.9,1005.3 1263.6,1003.3 1258.4,1002.0 1253.2,1002.0 1250.6,1004.0 1245.3,1000.7 1240.1,998.1 1234.9,996.8 1233.6,1000.7 1225.7,1002.0 1215.3,1002.0 1210.1,1007.2 1206.1,1012.5 1203.5,1016.4 1198.3,1020.3 1195.7,1025.5 1194.4,1036.0 1195.7,1042.5 1195.7,1050.0" fill="none" stroke="#3a3f44" stroke-width="1.8" stroke-linejoin="round"/>
<polyline points="1385.1,798.5 1381.9,801.1 1379.9,806.3 1379.3,816.8 1379.9,827.2 1378.6,835.1 1381.2,840.3 1385.1,844.2 1381.2,846.8 1378.6,852.1 1376.0,856.0 1376.0,870.0" fill="none" stroke="#3a3f44" stroke-width="1.8" stroke-linejoin="round"/>
<polyline points="1385.1,798.5 1395.6,801.1 1404.7,805.0 1412.6,812.9 1419.1,819.4 1425.6,822.0 1433.5,823.3 1440.0,819.4 1447.9,816.8 1454.4,815.5 1460.9,811.6 1467.5,805.0 1472.7,799.8 1480.0,798.5 1502.5,805.0" fill="none" stroke="#3a3f44" stroke-width="1.8" stroke-linejoin="round"/>
<polyline points="1422.5,666.2 1435.0,675.0 1450.0,680.0 1465.0,687.5 1475.0,695.0 1472.5,705.0 1480.0,717.5 1487.5,730.0 1485.0,735.0 1492.5,745.0 1493.8,755.0 1500.0,767.5 1502.5,780.0 1500.0,792.5 1497.5,800.0 1502.5,805.0" fill="none" stroke="#3a3f44" stroke-width="1.8" stroke-linejoin="round"/>
<polyline points="1500.0,985.0 1520.0,975.0 1550.0,967.5 1570.0,962.5 1572.5,952.5 1592.5,940.0 1610.0,937.5 1620.0,945.0 1625.0,952.5 1637.5,955.0 1650.0,962.5 1672.5,960.0 1682.5,970.0 1692.5,975.0 1700.0,972.5 1707.5,990.0 1712.5,1000.0 1730.0,997.5 1737.5,1005.0 1740.0,1020.0 1750.0,1022.5 1755.0,1035.0 1765.0,1037.5 1782.5,1040.0 1795.0,1047.5 1802.5,1035.0 1810.0,1052.5 1817.5,1065.0 1827.5,1070.0 1840.0,1065.0 1850.0,1055.0 1860.0,1040.0" fill="none" stroke="#3a3f44" stroke-width="1.8" stroke-linejoin="round"/>
<polyline points="1300.0,1260.0 1315.0,1242.5 1332.5,1235.0 1340.0,1247.5 1350.0,1250.0 1370.0,1250.0 1380.0,1252.5 1382.5,1265.0 1395.0,1257.5 1402.5,1252.5 1410.0,1247.5 1425.0,1252.5 1440.0,1255.0 1450.0,1250.0 1470.0,1242.5 1490.0,1235.0 1497.5,1237.5 1507.5,1242.5 1525.0,1252.5 1540.0,1272.5 1547.5,1282.5 1545.0,1300.0 1537.5,1312.5 1537.5,1327.5 1550.0,1335.0 1555.0,1350.0 1555.0,1365.0" fill="none" stroke="#3a3f44" stroke-width="1.8" stroke-linejoin="round"/>
<polyline points="2022.0,791.5 2007.0,796.5 2002.0,801.5 2012.0,809.0 2004.5,829.0 2002.0,821.5 1992.0,819.0 1984.5,812.8 1977.0,814.0 1972.0,821.5 1967.0,831.5 1937.0,841.5 1934.5,859.0 1922.0,866.5 1909.5,889.0 1894.5,870.2 1887.0,871.5 1872.0,879.0 1867.0,891.5 1854.5,901.5 1862.0,909.0 1864.5,919.0 1857.0,929.0 1844.5,931.5" fill="none" stroke="#3a3f44" stroke-width="1.8" stroke-linejoin="round"/>
<polyline points="1844.5,959.0 1857.0,969.0 1867.0,979.0 1865.8,991.5 1857.0,999.0 1854.5,1014.0 1862.0,1029.0 1857.0,1044.0 1844.5,1056.5" fill="none" stroke="#3a3f44" stroke-width="1.8" stroke-linejoin="round"/>
<polyline points="1787.5,1095.0 1800.0,1110.0 1807.5,1135.0 1815.0,1167.5 1817.5,1182.5 1815.0,1197.5 1825.0,1220.0 1830.0,1230.0 1820.0,1235.0 1817.5,1250.0 1812.5,1264.0" fill="none" stroke="#3a3f44" stroke-width="1.8" stroke-linejoin="round"/>
<polyline points="1825.0,1070.0 1812.5,1076.2 1802.5,1081.2 1795.0,1090.0 1787.5,1095.0" fill="none" stroke="#3a3f44" stroke-width="1.8" stroke-linejoin="round"/>
<circle cx="200.5" cy="1139.3" r="4.6" fill="#fff" stroke="#2b3034" stroke-width="1.6"/>
<circle cx="619.3" cy="1190.5" r="4.6" fill="#fff" stroke="#2b3034" stroke-width="1.6"/>
<circle cx="1028.6" cy="977.5" r="4.6" fill="#fff" stroke="#2b3034" stroke-width="1.6"/>
<circle cx="1267.4" cy="833.4" r="4.6" fill="#fff" stroke="#2b3034" stroke-width="1.6"/>
<circle cx="1330.7" cy="778.4" r="4.6" fill="#fff" stroke="#2b3034" stroke-width="1.6"/>
<circle cx="1663.4" cy="791.5" r="4.6" fill="#fff" stroke="#2b3034" stroke-width="1.6"/>
<circle cx="1849.1" cy="775.1" r="4.6" fill="#fff" stroke="#2b3034" stroke-width="1.6"/>
<circle cx="1645.1" cy="1216.0" r="4.6" fill="#fff" stroke="#2b3034" stroke-width="1.6"/>
<circle cx="1369.9" cy="1400.4" r="4.6" fill="#fff" stroke="#2b3034" stroke-width="1.6"/>
<circle cx="1252.3" cy="1408.8" r="4.6" fill="#fff" stroke="#2b3034" stroke-width="1.6"/>
<text transform="translate(209.37,1134.60) scale(0.9651,1)" class="lab">Dornbirn</text>
<text transform="translate(628.37,1185.00) scale(0.9647,1)" class="lab">Innsbruck</text>
<text transform="translate(1037.20,970.30) scale(0.9714,1)" class="lab">Salzburg</text>
<text transform="translate(1277.58,829.90) scale(0.9423,1)" class="lab">Wels</text>
<text transform="translate(1339.07,774.90) scale(0.9651,1)" class="lab">Linz</text>
<text transform="translate(1672.90,830.60) scale(0.9570,1)" class="lab">St. Pölten</text>
<text transform="translate(1863.98,769.10) scale(0.9425,1)" class="lab">Wien</text>
<text transform="translate(1654.50,1212.70) scale(0.9640,1)" class="lab">Graz</text>
<text transform="translate(1381.25,1389.50) scale(0.9733,1)" class="lab">Klagenfurt am Wörthersee</text>
<text transform="translate(1264.79,1446.70) scale(0.9445,1)" class="lab">Villach</text>
</g>
<!-- scale bar -->
<g>
<rect x="1740" y="1619" width="251" height="8" fill="#000"/>
<rect x="1751.8" y="1620.2" width="11.8" height="5.6" fill="#fff"/>
<rect x="1776" y="1620.2" width="11.3" height="5.6" fill="#fff"/>
<rect x="1799.8" y="1620.2" width="47.2" height="5.6" fill="#fff"/>
<rect x="1895.6" y="1620.2" width="47.4" height="5.6" fill="#fff"/>
<text x="1864.3" y="1645.7" text-anchor="middle" style="font-family:'Liberation Sans',sans-serif;font-weight:bold;font-size:16.8px;fill:#111">75 km</text>
</g>
<text x="79" y="1667.6" style="font-family:'Liberation Sans',sans-serif;font-size:24px;fill:#333">© GfK | www.gfk.com/geomarketing-de | Karte erstellt mit RegioGraph</text>
<!-- legend -->
<rect x="2032.5" y="1179.5" width="388" height="508.5" fill="#fff" stroke="#c9cbcd" stroke-width="1.2"/>
<text transform="translate(2053.4,1236.3) scale(0.978,1)" style="font-family:'Liberation Sans',sans-serif;font-weight:bold;font-size:24.5px;fill:#3a3f44">Kaufkraftindex je Einwohner</text>
<text x="2053.4" y="1269.7" class="lg">in den Bezirken</text>
<text x="2053.4" y="1299.9" class="lg">(Landesdurchschnitt=100)</text>
<rect x="2053.4" y="1325.3" width="23.3" height="23.3" fill="#243463"/>
<text x="2274" y="1342.8" text-anchor="end" class="lg">unter</text>
<text x="2347" y="1342.8" text-anchor="end" class="lg">80</text>
<rect x="2053.4" y="1357.6" width="23.3" height="23.3" fill="#22408a"/>
<text x="2145.7" y="1375.1" text-anchor="end" class="lg">80</text>
<text x="2186.4" y="1375.1" class="lg">bis unter</text>
<text x="2351" y="1375.1" text-anchor="end" class="lg">88</text>
<rect x="2053.4" y="1389.9" width="23.3" height="23.3" fill="#37559c"/>
<text x="2145.7" y="1407.4" text-anchor="end" class="lg">88</text>
<text x="2186.4" y="1407.4" class="lg">bis unter</text>
<text x="2351" y="1407.4" text-anchor="end" class="lg">96</text>
<rect x="2053.4" y="1422.2" width="23.3" height="23.3" fill="#feb400"/>
<text x="2145.7" y="1439.7" text-anchor="end" class="lg">96</text>
<text x="2186.4" y="1439.7" class="lg">bis unter</text>
<text x="2351" y="1439.7" text-anchor="end" class="lg">104</text>
<rect x="2053.4" y="1454.5" width="23.3" height="23.3" fill="#d088a4"/>
<text x="2145.7" y="1472.0" text-anchor="end" class="lg">104</text>
<text x="2186.4" y="1472.0" class="lg">bis unter</text>
<text x="2351" y="1472.0" text-anchor="end" class="lg">112</text>
<rect x="2053.4" y="1486.8" width="23.3" height="23.3" fill="#cc4a7b"/>
<text x="2145.7" y="1504.3" text-anchor="end" class="lg">112</text>
<text x="2186.4" y="1504.3" class="lg">bis unter</text>
<text x="2351" y="1504.3" text-anchor="end" class="lg">120</text>
<rect x="2053.4" y="1519.1" width="23.3" height="23.3" fill="#9e3a62"/>
<text x="2145.7" y="1536.6" text-anchor="end" class="lg">120</text>
<text x="2186.4" y="1536.6" class="lg">und mehr</text>
<rect x="2053.4" y="1594" width="23.3" height="2.2" fill="#3a3f44"/>
<text x="2096.3" y="1597.9" class="lg">Grenze der Bundesländer</text>
<rect x="2053.4" y="1642.3" width="23.3" height="1.6" fill="#c3c6c9"/>
<text x="2096.3" y="1645.8" class="lg">Grenze der Bezirke</text>
</svg>
</body></html>
